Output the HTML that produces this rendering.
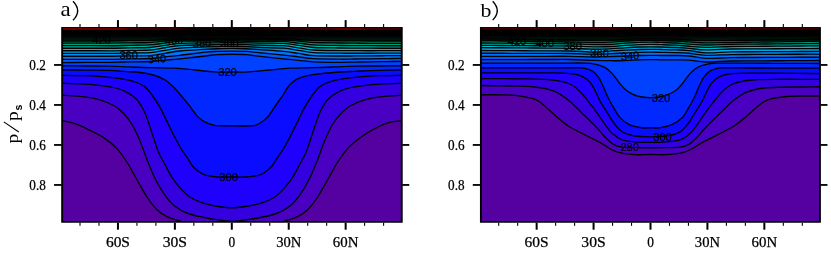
<!DOCTYPE html>
<html><head><meta charset="utf-8"><title>fig</title>
<style>html,body{margin:0;padding:0;background:#fff;}body{width:831px;height:253px;overflow:hidden;font-family:"Liberation Sans",sans-serif;}svg{display:block;}</style>
</head><body>
<svg style="will-change:transform" width="831" height="253" viewBox="0 0 831 253">
<rect width="831" height="253" fill="#fff"/>
<defs><linearGradient id="dg" x1="0" y1="0" x2="0" y2="1"><stop offset="0" stop-color="#000"/><stop offset="1" stop-color="rgb(0,30,16)"/></linearGradient><linearGradient id="reda" x1="0" y1="0" x2="1" y2="0"><stop offset="-0.000" stop-color="rgb(132,0,0)"/><stop offset="0.176" stop-color="rgb(128,0,0)"/><stop offset="0.200" stop-color="rgb(75,0,0)"/><stop offset="0.341" stop-color="rgb(60,0,0)"/><stop offset="0.376" stop-color="rgb(18,0,0)"/><stop offset="0.568" stop-color="rgb(15,0,0)"/><stop offset="0.612" stop-color="rgb(40,0,0)"/><stop offset="0.700" stop-color="rgb(65,0,0)"/><stop offset="0.789" stop-color="rgb(85,0,0)"/><stop offset="0.812" stop-color="rgb(118,0,0)"/><stop offset="0.877" stop-color="rgb(118,0,0)"/><stop offset="0.901" stop-color="rgb(85,0,0)"/><stop offset="1.001" stop-color="rgb(80,0,0)"/></linearGradient><linearGradient id="redb" x1="0" y1="0" x2="1" y2="0"><stop offset="0.000" stop-color="rgb(78,0,0)"/><stop offset="0.248" stop-color="rgb(78,0,0)"/><stop offset="0.278" stop-color="rgb(105,0,0)"/><stop offset="0.375" stop-color="rgb(105,0,0)"/><stop offset="0.404" stop-color="rgb(60,0,0)"/><stop offset="0.469" stop-color="rgb(28,0,0)"/><stop offset="0.617" stop-color="rgb(28,0,0)"/><stop offset="0.646" stop-color="rgb(60,0,0)"/><stop offset="0.664" stop-color="rgb(100,0,0)"/><stop offset="0.717" stop-color="rgb(100,0,0)"/><stop offset="0.741" stop-color="rgb(72,0,0)"/><stop offset="1.000" stop-color="rgb(72,0,0)"/></linearGradient><linearGradient id="ov" x1="0" y1="0" x2="1" y2="0"><stop offset="0" stop-color="rgb(0,80,10)" stop-opacity="0"/><stop offset="0.2" stop-color="rgb(0,80,10)" stop-opacity="0.27"/><stop offset="0.8" stop-color="rgb(0,80,10)" stop-opacity="0.27"/><stop offset="1" stop-color="rgb(0,80,10)" stop-opacity="0"/></linearGradient></defs>
<clipPath id="clipa"><rect x="62.15" y="27.30" width="339.60" height="194.60"/></clipPath>
<g clip-path="url(#clipa)">
<rect x="60.15" y="26.30" width="343.60" height="197.60" fill="rgb(85,0,160)"/>
<path d="M60.00,120.40 C62.50,120.95 70.00,122.03 75.00,123.70 C80.00,125.37 85.00,127.92 90.00,130.40 C95.00,132.88 100.50,135.57 105.00,138.60 C109.50,141.63 113.25,144.53 117.00,148.60 C120.75,152.67 124.33,158.10 127.50,163.00 C130.67,167.90 132.75,172.33 136.00,178.00 C139.25,183.67 143.50,191.70 147.00,197.00 C150.50,202.30 153.67,206.52 157.00,209.80 C160.33,213.08 163.67,214.97 167.00,216.70 C170.33,218.43 174.17,219.23 177.00,220.20 C179.83,221.17 181.00,221.53 184.00,222.50 C187.00,223.47 190.10,225.25 195.00,226.00 C199.90,226.75 207.27,226.67 213.40,227.00 C219.53,227.33 225.58,228.00 231.80,228.00 C238.02,228.00 244.40,227.33 250.70,227.00 C257.00,226.67 264.62,226.75 269.60,226.00 C274.58,225.25 277.60,223.47 280.60,222.50 C283.60,221.53 284.77,221.17 287.60,220.20 C290.43,219.23 294.27,218.43 297.60,216.70 C300.93,214.97 304.27,213.08 307.60,209.80 C310.93,206.52 314.10,202.30 317.60,197.00 C321.10,191.70 325.35,183.67 328.60,178.00 C331.85,172.33 333.93,167.90 337.10,163.00 C340.27,158.10 343.82,152.77 347.60,148.60 C351.38,144.43 355.43,141.23 359.80,138.00 C364.17,134.77 369.00,131.77 373.80,129.20 C378.60,126.63 383.40,124.03 388.60,122.60 C393.80,121.17 402.27,120.93 405.00,120.60 L405.00,23.30 L60.00,23.30 Z" fill="rgb(73,0,193)" stroke="none"/>
<path d="M60.00,95.00 C64.17,95.30 78.33,96.00 85.00,96.80 C91.67,97.60 95.05,98.27 100.00,99.80 C104.95,101.33 110.70,103.63 114.70,106.00 C118.70,108.37 121.20,111.08 124.00,114.00 C126.80,116.92 128.90,119.17 131.50,123.50 C134.10,127.83 136.93,133.75 139.60,140.00 C142.27,146.25 144.93,154.58 147.50,161.00 C150.07,167.42 152.13,172.85 155.00,178.50 C157.87,184.15 161.43,190.32 164.70,194.90 C167.97,199.48 170.72,202.90 174.60,206.00 C178.48,209.10 183.10,211.58 188.00,213.50 C192.90,215.42 198.67,216.38 204.00,217.50 C209.33,218.62 215.37,219.57 220.00,220.20 C224.63,220.83 227.87,221.30 231.80,221.30 C235.73,221.30 238.80,220.83 243.60,220.20 C248.40,219.57 255.10,218.62 260.60,217.50 C266.10,216.38 271.70,215.42 276.60,213.50 C281.50,211.58 286.12,209.10 290.00,206.00 C293.88,202.90 296.63,199.48 299.90,194.90 C303.17,190.32 306.73,184.15 309.60,178.50 C312.47,172.85 314.53,167.42 317.10,161.00 C319.67,154.58 322.33,146.25 325.00,140.00 C327.67,133.75 330.50,127.83 333.10,123.50 C335.70,119.17 337.80,116.92 340.60,114.00 C343.40,111.08 345.90,108.37 349.90,106.00 C353.90,103.63 359.65,101.33 364.60,99.80 C369.55,98.27 372.93,97.60 379.60,96.80 C386.27,96.00 400.43,95.30 404.60,95.00 L404.60,23.30 L60.00,23.30 Z" fill="rgb(53,0,224)" stroke="none"/>
<path d="M60.00,83.20 C64.17,83.35 76.67,83.48 85.00,84.10 C93.33,84.72 103.38,85.73 110.00,86.90 C116.62,88.07 120.20,88.95 124.70,91.10 C129.20,93.25 133.70,96.32 137.00,99.80 C140.30,103.28 142.33,107.47 144.50,112.00 C146.67,116.53 147.75,120.50 150.00,127.00 C152.25,133.50 155.47,144.67 158.00,151.00 C160.53,157.33 162.87,160.60 165.20,165.00 C167.53,169.40 169.60,173.67 172.00,177.40 C174.40,181.13 176.63,184.13 179.60,187.40 C182.57,190.67 186.23,194.52 189.80,197.00 C193.37,199.48 196.80,200.80 201.00,202.30 C205.20,203.80 209.87,205.08 215.00,206.00 C220.13,206.92 226.20,207.80 231.80,207.80 C237.40,207.80 243.30,206.92 248.60,206.00 C253.90,205.08 259.23,203.80 263.60,202.30 C267.97,200.80 271.23,199.48 274.80,197.00 C278.37,194.52 282.03,190.67 285.00,187.40 C287.97,184.13 290.20,181.13 292.60,177.40 C295.00,173.67 297.07,169.40 299.40,165.00 C301.73,160.60 304.07,157.33 306.60,151.00 C309.13,144.67 312.35,133.50 314.60,127.00 C316.85,120.50 317.93,116.53 320.10,112.00 C322.27,107.47 324.30,103.28 327.60,99.80 C330.90,96.32 335.40,93.25 339.90,91.10 C344.40,88.95 347.98,88.07 354.60,86.90 C361.22,85.73 371.27,84.72 379.60,84.10 C387.93,83.48 400.43,83.35 404.60,83.20 L404.60,23.30 L60.00,23.30 Z" fill="rgb(30,0,252)" stroke="none"/>
<path d="M60.00,75.30 C64.17,75.37 76.67,75.35 85.00,75.70 C93.33,76.05 102.55,76.62 110.00,77.40 C117.45,78.18 124.03,78.95 129.70,80.40 C135.37,81.85 140.28,83.67 144.00,86.10 C147.72,88.53 149.33,91.45 152.00,95.00 C154.67,98.55 157.43,102.83 160.00,107.40 C162.57,111.97 164.93,117.42 167.40,122.40 C169.87,127.38 172.53,132.95 174.80,137.30 C177.07,141.65 178.80,144.88 181.00,148.50 C183.20,152.12 186.00,156.00 188.00,159.00 C190.00,162.00 191.00,164.25 193.00,166.50 C195.00,168.75 197.60,170.97 200.00,172.50 C202.40,174.03 204.50,174.95 207.40,175.70 C210.30,176.45 213.33,176.78 217.40,177.00 C221.47,177.22 227.00,177.00 231.80,177.00 C236.60,177.00 241.97,177.22 246.20,177.00 C250.43,176.78 254.13,176.45 257.20,175.70 C260.27,174.95 262.20,174.03 264.60,172.50 C267.00,170.97 269.60,168.75 271.60,166.50 C273.60,164.25 274.60,162.00 276.60,159.00 C278.60,156.00 281.40,152.12 283.60,148.50 C285.80,144.88 287.53,141.65 289.80,137.30 C292.07,132.95 294.73,127.38 297.20,122.40 C299.67,117.42 302.03,111.97 304.60,107.40 C307.17,102.83 309.93,98.55 312.60,95.00 C315.27,91.45 316.88,88.53 320.60,86.10 C324.32,83.67 329.23,81.85 334.90,80.40 C340.57,78.95 347.15,78.18 354.60,77.40 C362.05,76.62 371.27,76.05 379.60,75.70 C387.93,75.35 400.43,75.37 404.60,75.30 L404.60,23.30 L60.00,23.30 Z" fill="rgb(10,12,255)" stroke="none"/>
<path d="M60.00,69.80 C64.17,69.85 76.67,70.00 85.00,70.10 C93.33,70.20 103.33,70.18 110.00,70.40 C116.67,70.62 120.00,71.10 125.00,71.45 C130.00,71.80 135.00,71.83 140.00,72.50 C145.00,73.17 150.83,74.25 155.00,75.50 C159.17,76.75 161.83,78.00 165.00,80.00 C168.17,82.00 171.33,84.92 174.00,87.50 C176.67,90.08 178.37,92.38 181.00,95.50 C183.63,98.62 187.10,102.77 189.80,106.20 C192.50,109.63 194.72,113.48 197.20,116.10 C199.68,118.72 201.80,120.37 204.70,121.90 C207.60,123.43 210.08,124.65 214.60,125.30 C219.12,125.95 227.17,125.68 231.80,125.80 C236.43,125.92 238.55,126.08 242.40,126.00 C246.25,125.92 251.78,125.90 254.90,125.30 C258.02,124.70 259.03,123.72 261.10,122.40 C263.17,121.08 265.43,119.38 267.30,117.40 C269.17,115.42 270.85,112.57 272.30,110.50 C273.75,108.43 274.75,106.83 276.00,105.00 C277.25,103.17 278.55,101.25 279.80,99.50 C281.05,97.75 282.30,96.33 283.50,94.50 C284.70,92.67 285.67,90.42 287.00,88.50 C288.33,86.58 289.38,84.77 291.50,83.00 C293.62,81.23 295.85,79.33 299.70,77.90 C303.55,76.47 307.97,75.38 314.60,74.40 C321.23,73.42 332.81,72.52 339.50,72.00 C346.19,71.48 349.67,71.53 354.75,71.30 C359.83,71.07 364.62,70.78 370.00,70.60 C375.38,70.42 381.33,70.33 387.00,70.20 C392.67,70.07 401.17,69.87 404.00,69.80 L404.00,23.30 L60.00,23.30 Z" fill="rgb(0,40,255)" stroke="none"/>
<path d="M60.00,65.80 C64.17,65.83 76.67,65.93 85.00,66.00 C93.33,66.07 102.50,66.04 110.00,66.20 C117.50,66.36 123.33,66.70 130.00,66.95 C136.67,67.20 142.50,67.49 150.00,67.70 C157.50,67.91 167.50,67.82 175.00,68.20 C182.50,68.58 188.33,69.38 195.00,70.00 C201.67,70.62 208.87,71.57 215.00,71.90 C221.13,72.23 226.20,72.00 231.80,72.00 C237.40,72.00 242.30,72.23 248.60,71.90 C254.90,71.57 262.77,70.62 269.60,70.00 C276.43,69.38 282.10,68.58 289.60,68.20 C297.10,67.82 307.10,67.91 314.60,67.70 C322.10,67.49 327.93,67.20 334.60,66.95 C341.27,66.70 347.10,66.36 354.60,66.20 C362.10,66.04 371.27,66.07 379.60,66.00 C387.93,65.93 400.43,65.83 404.60,65.80 L404.60,23.30 L60.00,23.30 Z" fill="rgb(0,66,255)" stroke="none"/>
<path d="M60.00,62.60 C64.17,62.58 76.67,62.50 85.00,62.45 C93.33,62.40 102.50,62.39 110.00,62.30 C117.50,62.21 123.33,62.03 130.00,61.90 C136.67,61.77 144.17,61.79 150.00,61.50 C155.83,61.21 160.00,60.60 165.00,60.15 C170.00,59.70 173.33,59.49 180.00,58.80 C186.67,58.11 198.75,56.71 205.00,56.00 C211.25,55.29 213.03,54.85 217.50,54.55 C221.97,54.25 227.03,54.20 231.80,54.20 C236.57,54.20 241.63,54.22 246.10,54.55 C250.57,54.88 252.35,55.48 258.60,56.20 C264.85,56.93 276.93,58.21 283.60,58.90 C290.27,59.59 293.60,59.87 298.60,60.35 C303.60,60.83 306.70,61.47 313.60,61.80 C320.50,62.12 333.10,62.26 340.00,62.30 C346.90,62.34 350.00,62.13 355.00,62.05 C360.00,61.97 364.67,61.88 370.00,61.80 C375.33,61.72 381.33,61.67 387.00,61.60 C392.67,61.53 401.17,61.43 404.00,61.40 L404.00,23.30 L60.00,23.30 Z" fill="rgb(0,88,255)" stroke="none"/>
<path d="M60.00,59.40 C64.17,59.40 76.67,59.40 85.00,59.40 C93.33,59.40 102.50,59.47 110.00,59.40 C117.50,59.33 123.33,59.10 130.00,58.95 C136.67,58.80 144.17,58.84 150.00,58.50 C155.83,58.16 160.00,57.43 165.00,56.90 C170.00,56.37 173.33,56.08 180.00,55.30 C186.67,54.52 198.75,52.84 205.00,52.20 C211.25,51.56 213.03,51.63 217.50,51.45 C221.97,51.27 227.03,51.10 231.80,51.10 C236.57,51.10 241.63,51.20 246.10,51.45 C250.57,51.70 252.35,51.99 258.60,52.60 C264.85,53.21 276.93,54.39 283.60,55.10 C290.27,55.81 293.60,56.27 298.60,56.85 C303.60,57.43 306.70,58.21 313.60,58.60 C320.50,58.99 333.10,59.13 340.00,59.20 C346.90,59.27 350.00,59.07 355.00,59.00 C360.00,58.93 364.67,58.87 370.00,58.80 C375.33,58.73 381.33,58.67 387.00,58.60 C392.67,58.53 401.17,58.43 404.00,58.40 L404.00,23.30 L60.00,23.30 Z" fill="rgb(0,116,255)" stroke="none"/>
<path d="M60.00,56.20 C64.17,56.20 76.67,56.20 85.00,56.20 C93.33,56.20 102.50,56.25 110.00,56.20 C117.50,56.15 123.33,56.00 130.00,55.90 C136.67,55.80 144.17,56.03 150.00,55.60 C155.83,55.17 160.00,54.07 165.00,53.30 C170.00,52.53 173.33,51.65 180.00,51.00 C186.67,50.35 198.75,49.77 205.00,49.40 C211.25,49.02 213.03,48.92 217.50,48.75 C221.97,48.58 227.03,48.40 231.80,48.40 C236.57,48.40 241.63,48.53 246.10,48.75 C250.57,48.97 252.35,49.28 258.60,49.70 C264.85,50.12 276.93,50.67 283.60,51.30 C290.27,51.92 293.60,52.73 298.60,53.45 C303.60,54.17 306.70,55.18 313.60,55.60 C320.50,56.02 333.10,55.95 340.00,56.00 C346.90,56.05 350.00,55.93 355.00,55.90 C360.00,55.87 364.67,55.83 370.00,55.80 C375.33,55.77 381.33,55.73 387.00,55.70 C392.67,55.67 401.17,55.62 404.00,55.60 L404.00,23.30 L60.00,23.30 Z" fill="rgb(0,144,248)" stroke="none"/>
<path d="M60.00,53.40 C64.17,53.40 76.67,53.40 85.00,53.40 C93.33,53.40 102.50,53.47 110.00,53.40 C117.50,53.33 123.33,53.13 130.00,53.00 C136.67,52.87 144.17,53.04 150.00,52.60 C155.83,52.16 160.00,51.10 165.00,50.35 C170.00,49.60 173.33,48.68 180.00,48.10 C186.67,47.52 198.75,47.16 205.00,46.90 C211.25,46.64 213.03,46.67 217.50,46.55 C221.97,46.43 227.03,46.20 231.80,46.20 C236.57,46.20 241.63,46.37 246.10,46.55 C250.57,46.73 252.35,47.02 258.60,47.30 C264.85,47.57 276.93,47.68 283.60,48.20 C290.27,48.72 293.60,49.67 298.60,50.40 C303.60,51.13 306.70,52.13 313.60,52.60 C320.50,53.07 333.10,53.10 340.00,53.20 C346.90,53.30 350.00,53.20 355.00,53.20 C360.00,53.20 364.67,53.21 370.00,53.20 C375.33,53.19 381.33,53.17 387.00,53.15 C392.67,53.13 401.17,53.11 404.00,53.10 L404.00,23.30 L60.00,23.30 Z" fill="rgb(0,170,232)" stroke="none"/>
<path d="M60.00,50.70 C64.17,50.71 76.67,50.73 85.00,50.75 C93.33,50.77 102.50,50.86 110.00,50.80 C117.50,50.74 123.33,50.53 130.00,50.40 C136.67,50.27 144.17,50.44 150.00,50.00 C155.83,49.56 160.00,48.50 165.00,47.75 C170.00,47.00 173.33,45.98 180.00,45.50 C186.67,45.02 198.75,45.04 205.00,44.90 C211.25,44.76 213.03,44.75 217.50,44.65 C221.97,44.55 227.03,44.30 231.80,44.30 C236.57,44.30 241.63,44.50 246.10,44.65 C250.57,44.80 252.35,45.03 258.60,45.20 C264.85,45.38 276.93,45.26 283.60,45.70 C290.27,46.14 293.60,47.13 298.60,47.85 C303.60,48.57 306.70,49.54 313.60,50.00 C320.50,50.46 333.10,50.49 340.00,50.60 C346.90,50.71 350.00,50.63 355.00,50.65 C360.00,50.67 364.67,50.70 370.00,50.70 C375.33,50.70 381.33,50.67 387.00,50.65 C392.67,50.63 401.17,50.61 404.00,50.60 L404.00,23.30 L60.00,23.30 Z" fill="rgb(0,186,204)" stroke="none"/>
<path d="M60.00,48.20 C64.17,48.20 76.67,48.20 85.00,48.20 C93.33,48.20 102.50,48.26 110.00,48.20 C117.50,48.14 123.33,47.97 130.00,47.85 C136.67,47.73 144.17,47.90 150.00,47.50 C155.83,47.10 160.00,46.13 165.00,45.45 C170.00,44.77 173.33,43.84 180.00,43.40 C186.67,42.96 198.75,42.89 205.00,42.80 C211.25,42.71 213.03,42.90 217.50,42.85 C221.97,42.80 227.03,42.50 231.80,42.50 C236.57,42.50 241.63,42.75 246.10,42.85 C250.57,42.95 252.35,43.01 258.60,43.10 C264.85,43.19 276.93,43.01 283.60,43.40 C290.27,43.79 293.60,44.77 298.60,45.45 C303.60,46.13 306.70,47.08 313.60,47.50 C320.50,47.92 333.10,47.90 340.00,48.00 C346.90,48.10 350.00,48.07 355.00,48.10 C360.00,48.13 364.67,48.18 370.00,48.20 C375.33,48.22 381.33,48.20 387.00,48.20 C392.67,48.20 401.17,48.20 404.00,48.20 L404.00,23.30 L60.00,23.30 Z" fill="rgb(0,175,160)" stroke="none"/>
<path d="M60.00,45.60 C64.17,45.61 76.67,45.63 85.00,45.65 C93.33,45.67 102.50,45.76 110.00,45.70 C117.50,45.64 123.33,45.43 130.00,45.30 C136.67,45.17 144.17,45.27 150.00,44.90 C155.83,44.52 160.00,43.67 165.00,43.05 C170.00,42.43 173.33,41.54 180.00,41.20 C186.67,40.86 198.75,40.98 205.00,41.00 C211.25,41.02 213.03,41.35 217.50,41.35 C221.97,41.35 227.03,41.00 231.80,41.00 C236.57,41.00 241.63,41.30 246.10,41.35 C250.57,41.40 252.35,41.29 258.60,41.30 C264.85,41.31 276.93,41.09 283.60,41.40 C290.27,41.71 293.60,42.57 298.60,43.15 C303.60,43.73 306.70,44.51 313.60,44.90 C320.50,45.29 333.10,45.38 340.00,45.50 C346.90,45.62 350.00,45.57 355.00,45.60 C360.00,45.63 364.67,45.68 370.00,45.70 C375.33,45.72 381.33,45.70 387.00,45.70 C392.67,45.70 401.17,45.70 404.00,45.70 L404.00,23.30 L60.00,23.30 Z" fill="rgb(0,158,116)" stroke="none"/>
<path d="M60.00,43.20 C64.17,43.19 76.67,43.17 85.00,43.15 C93.33,43.13 102.50,43.16 110.00,43.10 C117.50,43.04 123.33,42.90 130.00,42.80 C136.67,42.70 144.17,42.79 150.00,42.50 C155.83,42.21 160.00,41.53 165.00,41.05 C170.00,40.57 173.33,39.86 180.00,39.60 C186.67,39.34 198.75,39.46 205.00,39.50 C211.25,39.54 213.03,39.85 217.50,39.85 C221.97,39.85 227.03,39.50 231.80,39.50 C236.57,39.50 241.63,39.83 246.10,39.85 C250.57,39.87 252.35,39.61 258.60,39.60 C264.85,39.59 276.93,39.54 283.60,39.80 C290.27,40.06 293.60,40.70 298.60,41.15 C303.60,41.60 306.70,42.19 313.60,42.50 C320.50,42.81 333.10,42.89 340.00,43.00 C346.90,43.11 350.00,43.10 355.00,43.15 C360.00,43.20 364.67,43.27 370.00,43.30 C375.33,43.32 381.33,43.30 387.00,43.30 C392.67,43.30 401.17,43.30 404.00,43.30 L404.00,23.30 L60.00,23.30 Z" fill="rgb(0,128,84)" stroke="none"/>
<path d="M60.00,41.20 C64.17,41.18 76.67,41.13 85.00,41.10 C93.33,41.07 102.50,41.08 110.00,41.00 C117.50,40.92 123.33,40.77 130.00,40.65 C136.67,40.53 144.17,40.52 150.00,40.30 C155.83,40.07 160.00,39.63 165.00,39.30 C170.00,38.97 173.33,38.48 180.00,38.30 C186.67,38.12 198.75,38.19 205.00,38.20 C211.25,38.21 213.03,38.38 217.50,38.35 C221.97,38.32 227.03,38.00 231.80,38.00 C236.57,38.00 241.63,38.32 246.10,38.35 C250.57,38.38 252.35,38.19 258.60,38.20 C264.85,38.21 276.93,38.21 283.60,38.40 C290.27,38.59 293.60,39.03 298.60,39.35 C303.60,39.67 306.70,40.06 313.60,40.30 C320.50,40.54 333.10,40.70 340.00,40.80 C346.90,40.90 350.00,40.87 355.00,40.90 C360.00,40.93 364.67,40.98 370.00,41.00 C375.33,41.02 381.33,41.00 387.00,41.00 C392.67,41.00 401.17,41.00 404.00,41.00 L404.00,23.30 L60.00,23.30 Z" fill="rgb(0,82,50)" stroke="none"/>
<rect x="60.15" y="26.30" width="343.60" height="14.30" fill="#000"/>
<rect x="60.15" y="35.5" width="343.60" height="5.3" fill="url(#dg)"/>
<rect x="196" y="40.6" width="96" height="8.6" fill="url(#ov)"/>
<path d="M60.00,120.40 C62.50,120.95 70.00,122.03 75.00,123.70 C80.00,125.37 85.00,127.92 90.00,130.40 C95.00,132.88 100.50,135.57 105.00,138.60 C109.50,141.63 113.25,144.53 117.00,148.60 C120.75,152.67 124.33,158.10 127.50,163.00 C130.67,167.90 132.75,172.33 136.00,178.00 C139.25,183.67 143.50,191.70 147.00,197.00 C150.50,202.30 153.67,206.52 157.00,209.80 C160.33,213.08 163.67,214.97 167.00,216.70 C170.33,218.43 174.17,219.23 177.00,220.20 C179.83,221.17 181.00,221.53 184.00,222.50 C187.00,223.47 190.10,225.25 195.00,226.00 C199.90,226.75 207.27,226.67 213.40,227.00 C219.53,227.33 225.58,228.00 231.80,228.00 C238.02,228.00 244.40,227.33 250.70,227.00 C257.00,226.67 264.62,226.75 269.60,226.00 C274.58,225.25 277.60,223.47 280.60,222.50 C283.60,221.53 284.77,221.17 287.60,220.20 C290.43,219.23 294.27,218.43 297.60,216.70 C300.93,214.97 304.27,213.08 307.60,209.80 C310.93,206.52 314.10,202.30 317.60,197.00 C321.10,191.70 325.35,183.67 328.60,178.00 C331.85,172.33 333.93,167.90 337.10,163.00 C340.27,158.10 343.82,152.77 347.60,148.60 C351.38,144.43 355.43,141.23 359.80,138.00 C364.17,134.77 369.00,131.77 373.80,129.20 C378.60,126.63 383.40,124.03 388.60,122.60 C393.80,121.17 402.27,120.93 405.00,120.60" fill="none" stroke="#000" stroke-width="1.35"/>
<path d="M60.00,95.00 C64.17,95.30 78.33,96.00 85.00,96.80 C91.67,97.60 95.05,98.27 100.00,99.80 C104.95,101.33 110.70,103.63 114.70,106.00 C118.70,108.37 121.20,111.08 124.00,114.00 C126.80,116.92 128.90,119.17 131.50,123.50 C134.10,127.83 136.93,133.75 139.60,140.00 C142.27,146.25 144.93,154.58 147.50,161.00 C150.07,167.42 152.13,172.85 155.00,178.50 C157.87,184.15 161.43,190.32 164.70,194.90 C167.97,199.48 170.72,202.90 174.60,206.00 C178.48,209.10 183.10,211.58 188.00,213.50 C192.90,215.42 198.67,216.38 204.00,217.50 C209.33,218.62 215.37,219.57 220.00,220.20 C224.63,220.83 227.87,221.30 231.80,221.30 C235.73,221.30 238.80,220.83 243.60,220.20 C248.40,219.57 255.10,218.62 260.60,217.50 C266.10,216.38 271.70,215.42 276.60,213.50 C281.50,211.58 286.12,209.10 290.00,206.00 C293.88,202.90 296.63,199.48 299.90,194.90 C303.17,190.32 306.73,184.15 309.60,178.50 C312.47,172.85 314.53,167.42 317.10,161.00 C319.67,154.58 322.33,146.25 325.00,140.00 C327.67,133.75 330.50,127.83 333.10,123.50 C335.70,119.17 337.80,116.92 340.60,114.00 C343.40,111.08 345.90,108.37 349.90,106.00 C353.90,103.63 359.65,101.33 364.60,99.80 C369.55,98.27 372.93,97.60 379.60,96.80 C386.27,96.00 400.43,95.30 404.60,95.00" fill="none" stroke="#000" stroke-width="1.35"/>
<path d="M60.00,83.20 C64.17,83.35 76.67,83.48 85.00,84.10 C93.33,84.72 103.38,85.73 110.00,86.90 C116.62,88.07 120.20,88.95 124.70,91.10 C129.20,93.25 133.70,96.32 137.00,99.80 C140.30,103.28 142.33,107.47 144.50,112.00 C146.67,116.53 147.75,120.50 150.00,127.00 C152.25,133.50 155.47,144.67 158.00,151.00 C160.53,157.33 162.87,160.60 165.20,165.00 C167.53,169.40 169.60,173.67 172.00,177.40 C174.40,181.13 176.63,184.13 179.60,187.40 C182.57,190.67 186.23,194.52 189.80,197.00 C193.37,199.48 196.80,200.80 201.00,202.30 C205.20,203.80 209.87,205.08 215.00,206.00 C220.13,206.92 226.20,207.80 231.80,207.80 C237.40,207.80 243.30,206.92 248.60,206.00 C253.90,205.08 259.23,203.80 263.60,202.30 C267.97,200.80 271.23,199.48 274.80,197.00 C278.37,194.52 282.03,190.67 285.00,187.40 C287.97,184.13 290.20,181.13 292.60,177.40 C295.00,173.67 297.07,169.40 299.40,165.00 C301.73,160.60 304.07,157.33 306.60,151.00 C309.13,144.67 312.35,133.50 314.60,127.00 C316.85,120.50 317.93,116.53 320.10,112.00 C322.27,107.47 324.30,103.28 327.60,99.80 C330.90,96.32 335.40,93.25 339.90,91.10 C344.40,88.95 347.98,88.07 354.60,86.90 C361.22,85.73 371.27,84.72 379.60,84.10 C387.93,83.48 400.43,83.35 404.60,83.20" fill="none" stroke="#000" stroke-width="1.35"/>
<path d="M60.00,75.30 C64.17,75.37 76.67,75.35 85.00,75.70 C93.33,76.05 102.55,76.62 110.00,77.40 C117.45,78.18 124.03,78.95 129.70,80.40 C135.37,81.85 140.28,83.67 144.00,86.10 C147.72,88.53 149.33,91.45 152.00,95.00 C154.67,98.55 157.43,102.83 160.00,107.40 C162.57,111.97 164.93,117.42 167.40,122.40 C169.87,127.38 172.53,132.95 174.80,137.30 C177.07,141.65 178.80,144.88 181.00,148.50 C183.20,152.12 186.00,156.00 188.00,159.00 C190.00,162.00 191.00,164.25 193.00,166.50 C195.00,168.75 197.60,170.97 200.00,172.50 C202.40,174.03 204.50,174.95 207.40,175.70 C210.30,176.45 213.33,176.78 217.40,177.00 C221.47,177.22 227.00,177.00 231.80,177.00 C236.60,177.00 241.97,177.22 246.20,177.00 C250.43,176.78 254.13,176.45 257.20,175.70 C260.27,174.95 262.20,174.03 264.60,172.50 C267.00,170.97 269.60,168.75 271.60,166.50 C273.60,164.25 274.60,162.00 276.60,159.00 C278.60,156.00 281.40,152.12 283.60,148.50 C285.80,144.88 287.53,141.65 289.80,137.30 C292.07,132.95 294.73,127.38 297.20,122.40 C299.67,117.42 302.03,111.97 304.60,107.40 C307.17,102.83 309.93,98.55 312.60,95.00 C315.27,91.45 316.88,88.53 320.60,86.10 C324.32,83.67 329.23,81.85 334.90,80.40 C340.57,78.95 347.15,78.18 354.60,77.40 C362.05,76.62 371.27,76.05 379.60,75.70 C387.93,75.35 400.43,75.37 404.60,75.30" fill="none" stroke="#000" stroke-width="1.35"/>
<path d="M60.00,69.80 C64.17,69.85 76.67,70.00 85.00,70.10 C93.33,70.20 103.33,70.18 110.00,70.40 C116.67,70.62 120.00,71.10 125.00,71.45 C130.00,71.80 135.00,71.83 140.00,72.50 C145.00,73.17 150.83,74.25 155.00,75.50 C159.17,76.75 161.83,78.00 165.00,80.00 C168.17,82.00 171.33,84.92 174.00,87.50 C176.67,90.08 178.37,92.38 181.00,95.50 C183.63,98.62 187.10,102.77 189.80,106.20 C192.50,109.63 194.72,113.48 197.20,116.10 C199.68,118.72 201.80,120.37 204.70,121.90 C207.60,123.43 210.08,124.65 214.60,125.30 C219.12,125.95 227.17,125.68 231.80,125.80 C236.43,125.92 238.55,126.08 242.40,126.00 C246.25,125.92 251.78,125.90 254.90,125.30 C258.02,124.70 259.03,123.72 261.10,122.40 C263.17,121.08 265.43,119.38 267.30,117.40 C269.17,115.42 270.85,112.57 272.30,110.50 C273.75,108.43 274.75,106.83 276.00,105.00 C277.25,103.17 278.55,101.25 279.80,99.50 C281.05,97.75 282.30,96.33 283.50,94.50 C284.70,92.67 285.67,90.42 287.00,88.50 C288.33,86.58 289.38,84.77 291.50,83.00 C293.62,81.23 295.85,79.33 299.70,77.90 C303.55,76.47 307.97,75.38 314.60,74.40 C321.23,73.42 332.81,72.52 339.50,72.00 C346.19,71.48 349.67,71.53 354.75,71.30 C359.83,71.07 364.62,70.78 370.00,70.60 C375.38,70.42 381.33,70.33 387.00,70.20 C392.67,70.07 401.17,69.87 404.00,69.80" fill="none" stroke="#000" stroke-width="1.35"/>
<path d="M60.00,65.80 C64.17,65.83 76.67,65.93 85.00,66.00 C93.33,66.07 102.50,66.04 110.00,66.20 C117.50,66.36 123.33,66.70 130.00,66.95 C136.67,67.20 142.50,67.49 150.00,67.70 C157.50,67.91 167.50,67.82 175.00,68.20 C182.50,68.58 188.33,69.38 195.00,70.00 C201.67,70.62 208.87,71.57 215.00,71.90 C221.13,72.23 226.20,72.00 231.80,72.00 C237.40,72.00 242.30,72.23 248.60,71.90 C254.90,71.57 262.77,70.62 269.60,70.00 C276.43,69.38 282.10,68.58 289.60,68.20 C297.10,67.82 307.10,67.91 314.60,67.70 C322.10,67.49 327.93,67.20 334.60,66.95 C341.27,66.70 347.10,66.36 354.60,66.20 C362.10,66.04 371.27,66.07 379.60,66.00 C387.93,65.93 400.43,65.83 404.60,65.80" fill="none" stroke="#000" stroke-width="1.35"/>
<path d="M60.00,62.60 C64.17,62.58 76.67,62.50 85.00,62.45 C93.33,62.40 102.50,62.39 110.00,62.30 C117.50,62.21 123.33,62.03 130.00,61.90 C136.67,61.77 144.17,61.79 150.00,61.50 C155.83,61.21 160.00,60.60 165.00,60.15 C170.00,59.70 173.33,59.49 180.00,58.80 C186.67,58.11 198.75,56.71 205.00,56.00 C211.25,55.29 213.03,54.85 217.50,54.55 C221.97,54.25 227.03,54.20 231.80,54.20 C236.57,54.20 241.63,54.22 246.10,54.55 C250.57,54.88 252.35,55.48 258.60,56.20 C264.85,56.93 276.93,58.21 283.60,58.90 C290.27,59.59 293.60,59.87 298.60,60.35 C303.60,60.83 306.70,61.47 313.60,61.80 C320.50,62.12 333.10,62.26 340.00,62.30 C346.90,62.34 350.00,62.13 355.00,62.05 C360.00,61.97 364.67,61.88 370.00,61.80 C375.33,61.72 381.33,61.67 387.00,61.60 C392.67,61.53 401.17,61.43 404.00,61.40" fill="none" stroke="#000" stroke-width="1.35"/>
<path d="M60.00,59.40 C64.17,59.40 76.67,59.40 85.00,59.40 C93.33,59.40 102.50,59.47 110.00,59.40 C117.50,59.33 123.33,59.10 130.00,58.95 C136.67,58.80 144.17,58.84 150.00,58.50 C155.83,58.16 160.00,57.43 165.00,56.90 C170.00,56.37 173.33,56.08 180.00,55.30 C186.67,54.52 198.75,52.84 205.00,52.20 C211.25,51.56 213.03,51.63 217.50,51.45 C221.97,51.27 227.03,51.10 231.80,51.10 C236.57,51.10 241.63,51.20 246.10,51.45 C250.57,51.70 252.35,51.99 258.60,52.60 C264.85,53.21 276.93,54.39 283.60,55.10 C290.27,55.81 293.60,56.27 298.60,56.85 C303.60,57.43 306.70,58.21 313.60,58.60 C320.50,58.99 333.10,59.13 340.00,59.20 C346.90,59.27 350.00,59.07 355.00,59.00 C360.00,58.93 364.67,58.87 370.00,58.80 C375.33,58.73 381.33,58.67 387.00,58.60 C392.67,58.53 401.17,58.43 404.00,58.40" fill="none" stroke="#000" stroke-width="1.35"/>
<path d="M60.00,56.20 C64.17,56.20 76.67,56.20 85.00,56.20 C93.33,56.20 102.50,56.25 110.00,56.20 C117.50,56.15 123.33,56.00 130.00,55.90 C136.67,55.80 144.17,56.03 150.00,55.60 C155.83,55.17 160.00,54.07 165.00,53.30 C170.00,52.53 173.33,51.65 180.00,51.00 C186.67,50.35 198.75,49.77 205.00,49.40 C211.25,49.02 213.03,48.92 217.50,48.75 C221.97,48.58 227.03,48.40 231.80,48.40 C236.57,48.40 241.63,48.53 246.10,48.75 C250.57,48.97 252.35,49.28 258.60,49.70 C264.85,50.12 276.93,50.67 283.60,51.30 C290.27,51.92 293.60,52.73 298.60,53.45 C303.60,54.17 306.70,55.18 313.60,55.60 C320.50,56.02 333.10,55.95 340.00,56.00 C346.90,56.05 350.00,55.93 355.00,55.90 C360.00,55.87 364.67,55.83 370.00,55.80 C375.33,55.77 381.33,55.73 387.00,55.70 C392.67,55.67 401.17,55.62 404.00,55.60" fill="none" stroke="#000" stroke-width="1.35"/>
<path d="M60.00,53.40 C64.17,53.40 76.67,53.40 85.00,53.40 C93.33,53.40 102.50,53.47 110.00,53.40 C117.50,53.33 123.33,53.13 130.00,53.00 C136.67,52.87 144.17,53.04 150.00,52.60 C155.83,52.16 160.00,51.10 165.00,50.35 C170.00,49.60 173.33,48.68 180.00,48.10 C186.67,47.52 198.75,47.16 205.00,46.90 C211.25,46.64 213.03,46.67 217.50,46.55 C221.97,46.43 227.03,46.20 231.80,46.20 C236.57,46.20 241.63,46.37 246.10,46.55 C250.57,46.73 252.35,47.02 258.60,47.30 C264.85,47.57 276.93,47.68 283.60,48.20 C290.27,48.72 293.60,49.67 298.60,50.40 C303.60,51.13 306.70,52.13 313.60,52.60 C320.50,53.07 333.10,53.10 340.00,53.20 C346.90,53.30 350.00,53.20 355.00,53.20 C360.00,53.20 364.67,53.21 370.00,53.20 C375.33,53.19 381.33,53.17 387.00,53.15 C392.67,53.13 401.17,53.11 404.00,53.10" fill="none" stroke="#000" stroke-width="1.35"/>
<path d="M60.00,50.70 C64.17,50.71 76.67,50.73 85.00,50.75 C93.33,50.77 102.50,50.86 110.00,50.80 C117.50,50.74 123.33,50.53 130.00,50.40 C136.67,50.27 144.17,50.44 150.00,50.00 C155.83,49.56 160.00,48.50 165.00,47.75 C170.00,47.00 173.33,45.98 180.00,45.50 C186.67,45.02 198.75,45.04 205.00,44.90 C211.25,44.76 213.03,44.75 217.50,44.65 C221.97,44.55 227.03,44.30 231.80,44.30 C236.57,44.30 241.63,44.50 246.10,44.65 C250.57,44.80 252.35,45.03 258.60,45.20 C264.85,45.38 276.93,45.26 283.60,45.70 C290.27,46.14 293.60,47.13 298.60,47.85 C303.60,48.57 306.70,49.54 313.60,50.00 C320.50,50.46 333.10,50.49 340.00,50.60 C346.90,50.71 350.00,50.63 355.00,50.65 C360.00,50.67 364.67,50.70 370.00,50.70 C375.33,50.70 381.33,50.67 387.00,50.65 C392.67,50.63 401.17,50.61 404.00,50.60" fill="none" stroke="#000" stroke-width="1.35"/>
<path d="M60.00,48.20 C64.17,48.20 76.67,48.20 85.00,48.20 C93.33,48.20 102.50,48.26 110.00,48.20 C117.50,48.14 123.33,47.97 130.00,47.85 C136.67,47.73 144.17,47.90 150.00,47.50 C155.83,47.10 160.00,46.13 165.00,45.45 C170.00,44.77 173.33,43.84 180.00,43.40 C186.67,42.96 198.75,42.89 205.00,42.80 C211.25,42.71 213.03,42.90 217.50,42.85 C221.97,42.80 227.03,42.50 231.80,42.50 C236.57,42.50 241.63,42.75 246.10,42.85 C250.57,42.95 252.35,43.01 258.60,43.10 C264.85,43.19 276.93,43.01 283.60,43.40 C290.27,43.79 293.60,44.77 298.60,45.45 C303.60,46.13 306.70,47.08 313.60,47.50 C320.50,47.92 333.10,47.90 340.00,48.00 C346.90,48.10 350.00,48.07 355.00,48.10 C360.00,48.13 364.67,48.18 370.00,48.20 C375.33,48.22 381.33,48.20 387.00,48.20 C392.67,48.20 401.17,48.20 404.00,48.20" fill="none" stroke="#000" stroke-width="1.35"/>
<path d="M60.00,45.60 C64.17,45.61 76.67,45.63 85.00,45.65 C93.33,45.67 102.50,45.76 110.00,45.70 C117.50,45.64 123.33,45.43 130.00,45.30 C136.67,45.17 144.17,45.27 150.00,44.90 C155.83,44.52 160.00,43.67 165.00,43.05 C170.00,42.43 173.33,41.54 180.00,41.20 C186.67,40.86 198.75,40.98 205.00,41.00 C211.25,41.02 213.03,41.35 217.50,41.35 C221.97,41.35 227.03,41.00 231.80,41.00 C236.57,41.00 241.63,41.30 246.10,41.35 C250.57,41.40 252.35,41.29 258.60,41.30 C264.85,41.31 276.93,41.09 283.60,41.40 C290.27,41.71 293.60,42.57 298.60,43.15 C303.60,43.73 306.70,44.51 313.60,44.90 C320.50,45.29 333.10,45.38 340.00,45.50 C346.90,45.62 350.00,45.57 355.00,45.60 C360.00,45.63 364.67,45.68 370.00,45.70 C375.33,45.72 381.33,45.70 387.00,45.70 C392.67,45.70 401.17,45.70 404.00,45.70" fill="none" stroke="#000" stroke-width="1.35"/>
<path d="M60.00,43.20 C64.17,43.19 76.67,43.17 85.00,43.15 C93.33,43.13 102.50,43.16 110.00,43.10 C117.50,43.04 123.33,42.90 130.00,42.80 C136.67,42.70 144.17,42.79 150.00,42.50 C155.83,42.21 160.00,41.53 165.00,41.05 C170.00,40.57 173.33,39.86 180.00,39.60 C186.67,39.34 198.75,39.46 205.00,39.50 C211.25,39.54 213.03,39.85 217.50,39.85 C221.97,39.85 227.03,39.50 231.80,39.50 C236.57,39.50 241.63,39.83 246.10,39.85 C250.57,39.87 252.35,39.61 258.60,39.60 C264.85,39.59 276.93,39.54 283.60,39.80 C290.27,40.06 293.60,40.70 298.60,41.15 C303.60,41.60 306.70,42.19 313.60,42.50 C320.50,42.81 333.10,42.89 340.00,43.00 C346.90,43.11 350.00,43.10 355.00,43.15 C360.00,43.20 364.67,43.27 370.00,43.30 C375.33,43.32 381.33,43.30 387.00,43.30 C392.67,43.30 401.17,43.30 404.00,43.30" fill="none" stroke="#000" stroke-width="1.35"/>
<path d="M60.00,41.20 C64.17,41.18 76.67,41.13 85.00,41.10 C93.33,41.07 102.50,41.08 110.00,41.00 C117.50,40.92 123.33,40.77 130.00,40.65 C136.67,40.53 144.17,40.52 150.00,40.30 C155.83,40.07 160.00,39.63 165.00,39.30 C170.00,38.97 173.33,38.48 180.00,38.30 C186.67,38.12 198.75,38.19 205.00,38.20 C211.25,38.21 213.03,38.38 217.50,38.35 C221.97,38.32 227.03,38.00 231.80,38.00 C236.57,38.00 241.63,38.32 246.10,38.35 C250.57,38.38 252.35,38.19 258.60,38.20 C264.85,38.21 276.93,38.21 283.60,38.40 C290.27,38.59 293.60,39.03 298.60,39.35 C303.60,39.67 306.70,40.06 313.60,40.30 C320.50,40.54 333.10,40.70 340.00,40.80 C346.90,40.90 350.00,40.87 355.00,40.90 C360.00,40.93 364.67,40.98 370.00,41.00 C375.33,41.02 381.33,41.00 387.00,41.00 C392.67,41.00 401.17,41.00 404.00,41.00" fill="none" stroke="#000" stroke-width="1.35"/>
<rect x="62.15" y="28" width="339.60" height="1.75" fill="url(#reda)"/>
<text x="219.35" y="181.25" font-family="Liberation Sans" font-size="11" textLength="18.5" lengthAdjust="spacingAndGlyphs" fill="#000" stroke="#000" stroke-width="0.2" transform="rotate(0 228.60 177.00)">300</text>
<text x="218.25" y="76.25" font-family="Liberation Sans" font-size="11" textLength="18.5" lengthAdjust="spacingAndGlyphs" fill="#000" stroke="#000" stroke-width="0.2" transform="rotate(0 227.50 72.00)">320</text>
<text x="147.75" y="62.65" font-family="Liberation Sans" font-size="11" textLength="18.5" lengthAdjust="spacingAndGlyphs" fill="#000" stroke="#000" stroke-width="0.2" transform="rotate(-4 157.00 58.40)">340</text>
<text x="119.45" y="58.65" font-family="Liberation Sans" font-size="11" textLength="18.5" lengthAdjust="spacingAndGlyphs" fill="#000" stroke="#000" stroke-width="0.2" transform="rotate(0 128.70 54.40)">360</text>
<text x="192.75" y="46.95" font-family="Liberation Sans" font-size="11" textLength="18.5" lengthAdjust="spacingAndGlyphs" fill="#000" stroke="#000" stroke-width="0.2" transform="rotate(-3 202.00 42.70)">380</text>
<text x="220.25" y="47.15" font-family="Liberation Sans" font-size="11" textLength="18.5" lengthAdjust="spacingAndGlyphs" fill="#000" stroke="#000" stroke-width="0.2" transform="rotate(0 229.50 42.90)">380</text>
<text x="92.25" y="44.25" font-family="Liberation Sans" font-size="11" textLength="18.5" lengthAdjust="spacingAndGlyphs" fill="#000" stroke="#000" stroke-width="0.2" transform="rotate(0 101.50 40.00)">420</text>
<text x="164.75" y="44.05" font-family="Liberation Sans" font-size="11" textLength="18.5" lengthAdjust="spacingAndGlyphs" fill="#000" stroke="#000" stroke-width="0.2" transform="rotate(-3 174.00 39.80)">400</text>
</g>
<path d="M62.15,27.30 L62.15,221.90 L401.75,221.90 L401.75,27.30" fill="none" stroke="#000" stroke-width="1.9"/>
<rect x="61.15" y="27.6" width="341.60" height="0.6" fill="#000"/>
<rect x="79.45" y="222.80" width="1.1" height="3.0" fill="#000"/>
<rect x="79.45" y="24.00" width="1.1" height="3.3" fill="#000"/>
<rect x="98.43" y="222.80" width="1.1" height="3.0" fill="#000"/>
<rect x="98.43" y="24.00" width="1.1" height="3.3" fill="#000"/>
<rect x="116.95" y="222.80" width="2" height="6.9" fill="#000"/>
<rect x="116.95" y="20.10" width="2" height="7.2" fill="#000"/>
<rect x="136.38" y="222.80" width="1.1" height="3.0" fill="#000"/>
<rect x="136.38" y="24.00" width="1.1" height="3.3" fill="#000"/>
<rect x="155.35" y="222.80" width="1.1" height="3.0" fill="#000"/>
<rect x="155.35" y="24.00" width="1.1" height="3.3" fill="#000"/>
<rect x="173.88" y="222.80" width="2" height="6.9" fill="#000"/>
<rect x="173.88" y="20.10" width="2" height="7.2" fill="#000"/>
<rect x="193.30" y="222.80" width="1.1" height="3.0" fill="#000"/>
<rect x="193.30" y="24.00" width="1.1" height="3.3" fill="#000"/>
<rect x="212.28" y="222.80" width="1.1" height="3.0" fill="#000"/>
<rect x="212.28" y="24.00" width="1.1" height="3.3" fill="#000"/>
<rect x="230.80" y="222.80" width="2" height="6.9" fill="#000"/>
<rect x="230.80" y="20.10" width="2" height="7.2" fill="#000"/>
<rect x="250.22" y="222.80" width="1.1" height="3.0" fill="#000"/>
<rect x="250.22" y="24.00" width="1.1" height="3.3" fill="#000"/>
<rect x="269.20" y="222.80" width="1.1" height="3.0" fill="#000"/>
<rect x="269.20" y="24.00" width="1.1" height="3.3" fill="#000"/>
<rect x="287.73" y="222.80" width="2" height="6.9" fill="#000"/>
<rect x="287.73" y="20.10" width="2" height="7.2" fill="#000"/>
<rect x="307.15" y="222.80" width="1.1" height="3.0" fill="#000"/>
<rect x="307.15" y="24.00" width="1.1" height="3.3" fill="#000"/>
<rect x="326.12" y="222.80" width="1.1" height="3.0" fill="#000"/>
<rect x="326.12" y="24.00" width="1.1" height="3.3" fill="#000"/>
<rect x="344.65" y="222.80" width="2" height="6.9" fill="#000"/>
<rect x="344.65" y="20.10" width="2" height="7.2" fill="#000"/>
<rect x="364.07" y="222.80" width="1.1" height="3.0" fill="#000"/>
<rect x="364.07" y="24.00" width="1.1" height="3.3" fill="#000"/>
<rect x="383.05" y="222.80" width="1.1" height="3.0" fill="#000"/>
<rect x="383.05" y="24.00" width="1.1" height="3.3" fill="#000"/>
<rect x="54.05" y="64.05" width="7.6" height="1.8" fill="#000"/>
<rect x="402.25" y="64.05" width="7.0" height="1.8" fill="#000"/>
<text x="29.35" y="69.55" font-family="Liberation Serif" font-size="14" textLength="16.5" lengthAdjust="spacingAndGlyphs" fill="#000" stroke="#000" stroke-width="0.25">0.2</text>
<rect x="54.05" y="104.05" width="7.6" height="1.8" fill="#000"/>
<rect x="402.25" y="104.05" width="7.0" height="1.8" fill="#000"/>
<text x="29.35" y="109.55" font-family="Liberation Serif" font-size="14" textLength="16.5" lengthAdjust="spacingAndGlyphs" fill="#000" stroke="#000" stroke-width="0.25">0.4</text>
<rect x="54.05" y="144.05" width="7.6" height="1.8" fill="#000"/>
<rect x="402.25" y="144.05" width="7.0" height="1.8" fill="#000"/>
<text x="29.35" y="149.55" font-family="Liberation Serif" font-size="14" textLength="16.5" lengthAdjust="spacingAndGlyphs" fill="#000" stroke="#000" stroke-width="0.25">0.6</text>
<rect x="54.05" y="184.05" width="7.6" height="1.8" fill="#000"/>
<rect x="402.25" y="184.05" width="7.0" height="1.8" fill="#000"/>
<text x="29.35" y="189.55" font-family="Liberation Serif" font-size="14" textLength="16.5" lengthAdjust="spacingAndGlyphs" fill="#000" stroke="#000" stroke-width="0.25">0.8</text>
<text x="105.90" y="247.2" font-family="Liberation Serif" font-size="14" textLength="24.1" lengthAdjust="spacingAndGlyphs" fill="#000" stroke="#000" stroke-width="0.25">60S</text>
<text x="162.68" y="247.2" font-family="Liberation Serif" font-size="14" textLength="24.4" lengthAdjust="spacingAndGlyphs" fill="#000" stroke="#000" stroke-width="0.25">30S</text>
<text x="228.45" y="247.2" font-family="Liberation Serif" font-size="14" textLength="6.7" lengthAdjust="spacingAndGlyphs" fill="#000" stroke="#000" stroke-width="0.25">0</text>
<text x="276.18" y="247.2" font-family="Liberation Serif" font-size="14" textLength="25.1" lengthAdjust="spacingAndGlyphs" fill="#000" stroke="#000" stroke-width="0.25">30N</text>
<text x="332.85" y="247.2" font-family="Liberation Serif" font-size="14" textLength="25.6" lengthAdjust="spacingAndGlyphs" fill="#000" stroke="#000" stroke-width="0.25">60N</text>
<clipPath id="clipb"><rect x="480.90" y="27.30" width="339.05" height="194.60"/></clipPath>
<g clip-path="url(#clipb)">
<rect x="478.90" y="26.30" width="343.05" height="197.60" fill="rgb(85,0,160)"/>
<path d="M478.00,94.80 C482.17,94.80 497.00,94.72 503.00,94.80 C509.00,94.88 511.17,95.10 514.00,95.30 C516.83,95.50 516.93,95.48 520.00,96.00 C523.07,96.52 529.08,97.40 532.40,98.40 C535.72,99.40 536.98,99.97 539.90,102.00 C542.82,104.03 546.58,107.70 549.90,110.60 C553.22,113.50 556.48,116.67 559.80,119.40 C563.12,122.13 565.62,124.43 569.80,127.00 C573.98,129.57 579.88,132.25 584.90,134.80 C589.92,137.35 595.75,140.02 599.90,142.30 C604.05,144.58 606.48,146.77 609.80,148.50 C613.12,150.23 615.60,151.67 619.80,152.70 C624.00,153.73 629.88,154.40 635.00,154.70 C640.12,155.00 645.33,154.50 650.50,154.50 C655.67,154.50 660.67,155.00 666.00,154.70 C671.33,154.40 678.08,153.73 682.50,152.70 C686.92,151.67 689.18,150.23 692.50,148.50 C695.82,146.77 698.25,144.58 702.40,142.30 C706.55,140.02 712.38,137.35 717.40,134.80 C722.42,132.25 728.32,129.54 732.50,127.01 C736.68,124.48 739.18,122.28 742.50,119.61 C745.82,116.95 749.08,113.85 752.40,111.01 C755.72,108.18 759.48,104.59 762.40,102.61 C765.32,100.64 766.58,100.10 769.90,99.16 C773.22,98.23 779.23,97.47 782.30,97.01 C785.37,96.55 785.51,96.60 788.30,96.43 C791.09,96.26 793.23,96.07 799.06,96.00 C804.88,95.93 819.21,96.00 823.24,96.00 L823.24,23.30 L478.00,23.30 Z" fill="rgb(73,0,193)" stroke="none"/>
<path d="M478.00,85.50 C481.50,85.56 492.00,85.73 499.00,85.85 C506.00,85.97 514.00,86.01 520.00,86.20 C526.00,86.39 530.85,86.62 535.00,87.00 C539.15,87.38 541.18,87.57 544.90,88.50 C548.62,89.43 553.15,90.47 557.30,92.60 C561.45,94.73 566.07,98.27 569.80,101.30 C573.53,104.33 576.38,107.58 579.70,110.80 C583.02,114.02 586.38,117.27 589.70,120.60 C593.02,123.93 597.08,128.10 599.60,130.80 C602.12,133.50 602.48,134.55 604.80,136.80 C607.12,139.05 610.63,142.57 613.50,144.30 C616.37,146.03 617.92,146.63 622.00,147.20 C626.08,147.77 633.25,147.62 638.00,147.70 C642.75,147.78 646.33,147.70 650.50,147.70 C654.67,147.70 658.03,147.78 663.00,147.70 C667.97,147.62 676.00,147.77 680.30,147.20 C684.60,146.63 685.93,146.03 688.80,144.30 C691.67,142.57 695.18,139.05 697.50,136.80 C699.82,134.55 700.18,133.50 702.70,130.80 C705.22,128.10 709.28,123.93 712.60,120.60 C715.92,117.27 719.28,114.01 722.60,110.80 C725.92,107.59 728.77,104.30 732.50,101.31 C736.23,98.32 740.85,94.91 745.00,92.86 C749.15,90.81 753.68,89.87 757.40,89.01 C761.12,88.15 763.15,88.01 767.30,87.71 C771.45,87.41 776.39,87.34 782.30,87.21 C788.21,87.08 795.95,87.04 802.77,86.96 C809.60,86.87 819.83,86.74 823.24,86.70 L823.24,23.30 L478.00,23.30 Z" fill="rgb(53,0,224)" stroke="none"/>
<path d="M478.00,78.60 C482.17,78.62 494.67,78.67 503.00,78.70 C511.33,78.73 521.00,78.68 528.00,78.80 C535.00,78.92 540.12,79.10 545.00,79.40 C549.88,79.70 553.17,79.83 557.30,80.60 C561.43,81.37 566.52,82.65 569.80,84.00 C573.08,85.35 574.88,87.00 577.00,88.70 C579.12,90.40 580.67,92.15 582.50,94.20 C584.33,96.25 585.97,98.43 588.00,101.00 C590.03,103.57 592.53,106.67 594.70,109.60 C596.87,112.53 599.12,115.90 601.00,118.60 C602.88,121.30 604.12,123.33 606.00,125.80 C607.88,128.27 609.60,131.07 612.30,133.40 C615.00,135.73 618.47,138.40 622.20,139.80 C625.93,141.20 629.98,141.38 634.70,141.80 C639.42,142.22 645.23,142.30 650.50,142.30 C655.77,142.30 661.37,142.22 666.30,141.80 C671.23,141.38 676.15,141.20 680.10,139.80 C684.05,138.40 687.30,135.73 690.00,133.40 C692.70,131.07 694.42,128.27 696.30,125.80 C698.18,123.33 699.42,121.30 701.30,118.60 C703.18,115.90 705.43,112.53 707.60,109.60 C709.77,106.67 712.27,103.57 714.30,101.00 C716.33,98.43 717.97,96.25 719.80,94.20 C721.63,92.15 723.18,90.40 725.30,88.70 C727.42,87.00 729.22,85.33 732.50,84.01 C735.78,82.68 740.87,81.47 745.00,80.75 C749.13,80.04 752.42,79.94 757.30,79.70 C762.18,79.45 767.39,79.36 774.30,79.30 C781.21,79.23 790.61,79.30 798.77,79.30 C806.93,79.30 819.17,79.30 823.24,79.30 L823.24,23.30 L478.00,23.30 Z" fill="rgb(30,0,252)" stroke="none"/>
<path d="M478.00,72.90 C482.17,72.90 494.67,72.90 503.00,72.90 C511.33,72.90 519.67,72.90 528.00,72.90 C536.33,72.90 546.00,72.78 553.00,72.90 C560.00,73.02 565.50,73.17 570.00,73.60 C574.50,74.03 577.17,74.50 580.00,75.50 C582.83,76.50 584.95,77.93 587.00,79.60 C589.05,81.27 590.72,83.18 592.30,85.50 C593.88,87.82 595.22,90.92 596.50,93.50 C597.78,96.08 598.75,98.67 600.00,101.00 C601.25,103.33 602.50,105.08 604.00,107.50 C605.50,109.92 607.37,112.92 609.00,115.50 C610.63,118.08 611.60,120.28 613.80,123.00 C616.00,125.72 618.72,129.63 622.20,131.80 C625.68,133.97 629.98,135.17 634.70,136.00 C639.42,136.83 645.23,136.80 650.50,136.80 C655.77,136.80 661.37,136.83 666.30,136.00 C671.23,135.17 676.40,133.97 680.10,131.80 C683.80,129.63 686.30,125.72 688.50,123.00 C690.70,120.28 691.67,118.08 693.30,115.50 C694.93,112.92 696.80,109.92 698.30,107.50 C699.80,105.08 701.05,103.33 702.30,101.00 C703.55,98.67 704.52,96.08 705.80,93.50 C707.08,90.92 708.42,87.82 710.00,85.50 C711.58,83.18 713.25,81.27 715.30,79.60 C717.35,77.93 719.47,76.50 722.30,75.50 C725.13,74.50 727.80,74.01 732.30,73.61 C736.80,73.21 742.36,73.16 749.30,73.10 C756.24,73.05 765.73,73.21 773.95,73.27 C782.16,73.32 790.38,73.38 798.60,73.43 C806.81,73.49 819.14,73.57 823.24,73.60 L823.24,23.30 L478.00,23.30 Z" fill="rgb(10,12,255)" stroke="none"/>
<path d="M478.00,67.90 C482.17,67.90 494.67,67.90 503.00,67.90 C511.33,67.90 519.67,67.90 528.00,67.90 C536.33,67.90 544.67,67.90 553.00,67.90 C561.33,67.90 572.67,67.83 578.00,67.90 C583.33,67.97 582.60,67.77 585.00,68.30 C587.40,68.83 590.13,69.60 592.40,71.10 C594.67,72.60 596.73,74.60 598.60,77.30 C600.47,80.00 602.15,84.18 603.60,87.30 C605.05,90.42 606.15,93.52 607.30,96.00 C608.45,98.48 609.47,100.30 610.50,102.20 C611.53,104.10 611.95,104.87 613.50,107.40 C615.05,109.93 617.10,114.48 619.80,117.40 C622.50,120.32 626.00,123.17 629.70,124.90 C633.40,126.63 638.53,127.32 642.00,127.80 C645.47,128.28 647.67,127.80 650.50,127.80 C653.33,127.80 655.53,128.28 659.00,127.80 C662.47,127.32 667.38,126.63 671.30,124.90 C675.22,123.17 679.58,120.32 682.50,117.40 C685.42,114.48 687.25,109.93 688.80,107.40 C690.35,104.87 690.77,104.10 691.80,102.20 C692.83,100.30 693.85,98.48 695.00,96.00 C696.15,93.52 697.25,90.42 698.70,87.30 C700.15,84.18 701.83,80.00 703.70,77.30 C705.57,74.60 707.63,72.60 709.90,71.10 C712.17,69.60 714.90,68.83 717.30,68.30 C719.70,67.77 719.01,67.95 724.30,67.90 C729.59,67.85 740.79,67.95 749.04,67.98 C757.28,68.00 765.53,68.03 773.77,68.05 C782.02,68.08 790.26,68.10 798.51,68.12 C806.75,68.15 819.12,68.19 823.24,68.20 L823.24,23.30 L478.00,23.30 Z" fill="rgb(0,40,255)" stroke="none"/>
<path d="M478.00,63.20 C482.46,63.20 495.83,63.18 504.75,63.18 C513.67,63.17 522.58,63.16 531.50,63.15 C540.42,63.14 549.33,63.13 558.25,63.12 C567.17,63.12 578.89,62.94 585.00,63.10 C591.11,63.26 591.60,63.38 594.90,64.10 C598.20,64.82 601.90,65.82 604.80,67.40 C607.70,68.98 609.80,70.92 612.30,73.60 C614.80,76.28 617.32,80.60 619.80,83.50 C622.28,86.40 624.30,88.92 627.20,91.00 C630.10,93.08 633.32,94.88 637.20,96.00 C641.08,97.12 646.07,97.70 650.50,97.70 C654.93,97.70 659.70,97.12 663.80,96.00 C667.90,94.88 671.98,93.08 675.10,91.00 C678.22,88.92 680.02,86.40 682.50,83.50 C684.98,80.60 687.50,76.28 690.00,73.60 C692.50,70.92 694.60,68.98 697.50,67.40 C700.40,65.82 704.10,64.82 707.40,64.10 C710.70,63.38 711.24,63.25 717.30,63.10 C723.36,62.95 734.96,63.17 743.79,63.20 C752.61,63.23 761.44,63.27 770.27,63.30 C779.10,63.33 787.93,63.37 796.76,63.40 C805.59,63.43 818.83,63.48 823.24,63.50 L823.24,23.30 L478.00,23.30 Z" fill="rgb(0,66,255)" stroke="none"/>
<path d="M478.00,59.60 C481.83,59.60 493.33,59.58 501.00,59.58 C508.67,59.57 516.33,59.56 524.00,59.55 C531.67,59.54 539.33,59.53 547.00,59.52 C554.67,59.52 562.00,59.35 570.00,59.50 C578.00,59.65 588.00,60.20 595.00,60.40 C602.00,60.60 607.00,60.68 612.00,60.70 C617.00,60.72 620.33,60.65 625.00,60.50 C629.67,60.35 635.75,59.95 640.00,59.80 C644.25,59.65 647.00,59.60 650.50,59.60 C654.00,59.60 656.75,59.75 661.00,59.80 C665.25,59.85 671.33,59.85 676.00,59.90 C680.67,59.95 684.00,59.75 689.00,60.10 C694.00,60.45 699.00,61.85 706.00,62.00 C713.00,62.15 723.00,61.19 731.00,61.00 C739.00,60.81 746.33,60.92 754.00,60.88 C761.67,60.83 769.33,60.79 777.00,60.75 C784.67,60.71 792.33,60.67 800.00,60.62 C807.67,60.58 819.17,60.52 823.00,60.50 L823.00,23.30 L478.00,23.30 Z" fill="rgb(0,88,255)" stroke="none"/>
<path d="M478.00,56.30 C481.83,56.30 493.33,56.30 501.00,56.30 C508.67,56.30 516.33,56.30 524.00,56.30 C531.67,56.30 539.33,56.30 547.00,56.30 C554.67,56.30 562.00,56.18 570.00,56.30 C578.00,56.42 588.00,56.97 595.00,57.00 C602.00,57.03 607.00,56.67 612.00,56.50 C617.00,56.33 620.33,56.17 625.00,56.00 C629.67,55.83 635.75,55.62 640.00,55.50 C644.25,55.38 647.00,55.30 650.50,55.30 C654.00,55.30 656.75,55.47 661.00,55.50 C665.25,55.53 671.33,55.41 676.00,55.49 C680.67,55.57 684.00,55.51 689.00,55.99 C694.00,56.47 699.00,58.10 706.00,58.36 C713.00,58.62 723.00,57.72 731.00,57.57 C739.00,57.43 746.33,57.51 754.00,57.48 C761.67,57.45 769.33,57.42 777.00,57.39 C784.67,57.36 792.33,57.32 800.00,57.29 C807.67,57.26 819.17,57.22 823.00,57.20 L823.00,23.30 L478.00,23.30 Z" fill="rgb(0,116,255)" stroke="none"/>
<path d="M478.00,53.20 C481.83,53.21 493.33,53.25 501.00,53.28 C508.67,53.30 516.33,53.33 524.00,53.35 C531.67,53.38 539.33,53.40 547.00,53.42 C554.67,53.45 562.00,53.37 570.00,53.50 C578.00,53.63 588.00,54.17 595.00,54.20 C602.00,54.23 607.00,53.90 612.00,53.70 C617.00,53.50 620.33,53.23 625.00,53.00 C629.67,52.77 635.75,52.45 640.00,52.30 C644.25,52.15 647.00,52.10 650.50,52.10 C654.00,52.10 656.75,52.22 661.00,52.30 C665.25,52.38 671.33,52.42 676.00,52.58 C680.67,52.74 684.00,52.82 689.00,53.28 C694.00,53.74 699.00,55.11 706.00,55.32 C713.00,55.53 723.00,54.70 731.00,54.55 C739.00,54.40 746.33,54.48 754.00,54.44 C761.67,54.40 769.33,54.36 777.00,54.33 C784.67,54.29 792.33,54.25 800.00,54.21 C807.67,54.17 819.17,54.12 823.00,54.10 L823.00,23.30 L478.00,23.30 Z" fill="rgb(0,144,248)" stroke="none"/>
<path d="M478.00,50.50 C481.83,50.52 493.33,50.58 501.00,50.62 C508.67,50.67 516.33,50.71 524.00,50.75 C531.67,50.79 539.33,50.83 547.00,50.88 C554.67,50.92 562.00,50.81 570.00,51.00 C578.00,51.19 588.00,52.02 595.00,52.00 C602.00,51.98 607.00,51.20 612.00,50.90 C617.00,50.60 620.33,50.43 625.00,50.20 C629.67,49.97 635.75,49.65 640.00,49.50 C644.25,49.35 647.00,49.30 650.50,49.30 C654.00,49.30 656.75,49.41 661.00,49.50 C665.25,49.59 671.33,49.69 676.00,49.87 C680.67,50.05 684.00,50.07 689.00,50.57 C694.00,51.07 699.00,52.67 706.00,52.88 C713.00,53.09 723.00,52.02 731.00,51.83 C739.00,51.63 746.33,51.75 754.00,51.72 C761.67,51.68 769.33,51.65 777.00,51.61 C784.67,51.58 792.33,51.54 800.00,51.51 C807.67,51.47 819.17,51.42 823.00,51.40 L823.00,23.30 L478.00,23.30 Z" fill="rgb(0,170,232)" stroke="none"/>
<path d="M478.00,47.60 C481.83,47.63 493.33,47.72 501.00,47.77 C508.67,47.83 516.33,47.89 524.00,47.95 C531.67,48.01 539.33,48.07 547.00,48.12 C554.67,48.18 562.00,48.12 570.00,48.30 C578.00,48.48 588.00,49.13 595.00,49.20 C602.00,49.27 607.00,48.93 612.00,48.70 C617.00,48.47 620.33,48.08 625.00,47.80 C629.67,47.52 635.75,47.17 640.00,47.00 C644.25,46.83 647.00,46.80 650.50,46.80 C654.00,46.80 656.75,46.88 661.00,47.00 C665.25,47.12 671.33,47.29 676.00,47.53 C680.67,47.77 684.00,48.03 689.00,48.43 C694.00,48.83 699.00,49.83 706.00,49.92 C713.00,50.01 723.00,49.15 731.00,48.97 C739.00,48.80 746.33,48.90 754.00,48.86 C761.67,48.82 769.33,48.78 777.00,48.74 C784.67,48.70 792.33,48.66 800.00,48.62 C807.67,48.58 819.17,48.52 823.00,48.50 L823.00,23.30 L478.00,23.30 Z" fill="rgb(0,186,204)" stroke="none"/>
<path d="M478.00,45.30 C481.83,45.33 493.33,45.42 501.00,45.47 C508.67,45.53 516.33,45.59 524.00,45.65 C531.67,45.71 539.33,45.77 547.00,45.83 C554.67,45.88 562.00,45.84 570.00,46.00 C578.00,46.16 588.00,46.72 595.00,46.80 C602.00,46.88 607.00,46.73 612.00,46.50 C617.00,46.27 620.33,45.72 625.00,45.40 C629.67,45.08 635.75,44.78 640.00,44.60 C644.25,44.42 647.00,44.30 650.50,44.30 C654.00,44.30 656.75,44.45 661.00,44.60 C665.25,44.75 671.33,44.91 676.00,45.19 C680.67,45.47 684.00,45.93 689.00,46.29 C694.00,46.65 699.00,47.32 706.00,47.36 C713.00,47.40 723.00,46.69 731.00,46.52 C739.00,46.36 746.33,46.40 754.00,46.34 C761.67,46.28 769.33,46.22 777.00,46.16 C784.67,46.10 792.33,46.04 800.00,45.98 C807.67,45.92 819.17,45.83 823.00,45.80 L823.00,23.30 L478.00,23.30 Z" fill="rgb(0,175,160)" stroke="none"/>
<path d="M478.00,43.00 C481.83,43.03 493.33,43.13 501.00,43.20 C508.67,43.27 516.33,43.33 524.00,43.40 C531.67,43.47 539.33,43.53 547.00,43.60 C554.67,43.67 562.00,43.65 570.00,43.80 C578.00,43.95 588.00,44.42 595.00,44.50 C602.00,44.58 607.00,44.52 612.00,44.30 C617.00,44.08 620.33,43.52 625.00,43.20 C629.67,42.88 635.75,42.58 640.00,42.40 C644.25,42.22 647.00,42.10 650.50,42.10 C654.00,42.10 656.75,42.25 661.00,42.40 C665.25,42.55 671.33,42.73 676.00,43.02 C680.67,43.31 684.00,43.79 689.00,44.12 C694.00,44.45 699.00,44.96 706.00,44.98 C713.00,45.00 723.00,44.40 731.00,44.25 C739.00,44.10 746.33,44.12 754.00,44.06 C761.67,44.00 769.33,43.94 777.00,43.88 C784.67,43.81 792.33,43.75 800.00,43.69 C807.67,43.62 819.17,43.53 823.00,43.50 L823.00,23.30 L478.00,23.30 Z" fill="rgb(0,158,116)" stroke="none"/>
<path d="M478.00,40.70 C481.83,40.75 493.33,40.92 501.00,41.03 C508.67,41.13 516.33,41.24 524.00,41.35 C531.67,41.46 539.33,41.57 547.00,41.67 C554.67,41.78 562.00,41.88 570.00,42.00 C578.00,42.12 588.00,42.38 595.00,42.40 C602.00,42.42 607.00,42.30 612.00,42.10 C617.00,41.90 620.33,41.45 625.00,41.20 C629.67,40.95 635.75,40.75 640.00,40.60 C644.25,40.45 647.00,40.30 650.50,40.30 C654.00,40.30 656.75,40.48 661.00,40.60 C665.25,40.72 671.33,40.80 676.00,41.02 C680.67,41.24 684.00,41.61 689.00,41.92 C694.00,42.23 699.00,42.79 706.00,42.88 C713.00,42.97 723.00,42.57 731.00,42.45 C739.00,42.33 746.33,42.24 754.00,42.14 C761.67,42.03 769.33,41.93 777.00,41.83 C784.67,41.72 792.33,41.62 800.00,41.51 C807.67,41.41 819.17,41.25 823.00,41.20 L823.00,23.30 L478.00,23.30 Z" fill="rgb(0,128,84)" stroke="none"/>
<path d="M478.00,38.60 C481.83,38.66 493.33,38.83 501.00,38.95 C508.67,39.07 516.33,39.18 524.00,39.30 C531.67,39.42 539.33,39.53 547.00,39.65 C554.67,39.77 562.00,39.91 570.00,40.00 C578.00,40.09 588.00,40.20 595.00,40.20 C602.00,40.20 607.00,40.17 612.00,40.00 C617.00,39.83 620.33,39.40 625.00,39.20 C629.67,39.00 635.75,38.90 640.00,38.80 C644.25,38.70 647.00,38.60 650.50,38.60 C654.00,38.60 656.75,38.73 661.00,38.80 C665.25,38.87 671.33,38.85 676.00,39.02 C680.67,39.19 684.00,39.54 689.00,39.82 C694.00,40.10 699.00,40.58 706.00,40.68 C713.00,40.78 723.00,40.54 731.00,40.45 C739.00,40.36 746.33,40.23 754.00,40.11 C761.67,40.00 769.33,39.89 777.00,39.78 C784.67,39.66 792.33,39.55 800.00,39.44 C807.67,39.33 819.17,39.16 823.00,39.10 L823.00,23.30 L478.00,23.30 Z" fill="rgb(0,82,50)" stroke="none"/>
<rect x="478.90" y="26.30" width="343.05" height="14.30" fill="#000"/>
<rect x="478.90" y="35.5" width="343.05" height="5.3" fill="url(#dg)"/>
<path d="M478.00,94.80 C482.17,94.80 497.00,94.72 503.00,94.80 C509.00,94.88 511.17,95.10 514.00,95.30 C516.83,95.50 516.93,95.48 520.00,96.00 C523.07,96.52 529.08,97.40 532.40,98.40 C535.72,99.40 536.98,99.97 539.90,102.00 C542.82,104.03 546.58,107.70 549.90,110.60 C553.22,113.50 556.48,116.67 559.80,119.40 C563.12,122.13 565.62,124.43 569.80,127.00 C573.98,129.57 579.88,132.25 584.90,134.80 C589.92,137.35 595.75,140.02 599.90,142.30 C604.05,144.58 606.48,146.77 609.80,148.50 C613.12,150.23 615.60,151.67 619.80,152.70 C624.00,153.73 629.88,154.40 635.00,154.70 C640.12,155.00 645.33,154.50 650.50,154.50 C655.67,154.50 660.67,155.00 666.00,154.70 C671.33,154.40 678.08,153.73 682.50,152.70 C686.92,151.67 689.18,150.23 692.50,148.50 C695.82,146.77 698.25,144.58 702.40,142.30 C706.55,140.02 712.38,137.35 717.40,134.80 C722.42,132.25 728.32,129.54 732.50,127.01 C736.68,124.48 739.18,122.28 742.50,119.61 C745.82,116.95 749.08,113.85 752.40,111.01 C755.72,108.18 759.48,104.59 762.40,102.61 C765.32,100.64 766.58,100.10 769.90,99.16 C773.22,98.23 779.23,97.47 782.30,97.01 C785.37,96.55 785.51,96.60 788.30,96.43 C791.09,96.26 793.23,96.07 799.06,96.00 C804.88,95.93 819.21,96.00 823.24,96.00" fill="none" stroke="#000" stroke-width="1.35"/>
<path d="M478.00,85.50 C481.50,85.56 492.00,85.73 499.00,85.85 C506.00,85.97 514.00,86.01 520.00,86.20 C526.00,86.39 530.85,86.62 535.00,87.00 C539.15,87.38 541.18,87.57 544.90,88.50 C548.62,89.43 553.15,90.47 557.30,92.60 C561.45,94.73 566.07,98.27 569.80,101.30 C573.53,104.33 576.38,107.58 579.70,110.80 C583.02,114.02 586.38,117.27 589.70,120.60 C593.02,123.93 597.08,128.10 599.60,130.80 C602.12,133.50 602.48,134.55 604.80,136.80 C607.12,139.05 610.63,142.57 613.50,144.30 C616.37,146.03 617.92,146.63 622.00,147.20 C626.08,147.77 633.25,147.62 638.00,147.70 C642.75,147.78 646.33,147.70 650.50,147.70 C654.67,147.70 658.03,147.78 663.00,147.70 C667.97,147.62 676.00,147.77 680.30,147.20 C684.60,146.63 685.93,146.03 688.80,144.30 C691.67,142.57 695.18,139.05 697.50,136.80 C699.82,134.55 700.18,133.50 702.70,130.80 C705.22,128.10 709.28,123.93 712.60,120.60 C715.92,117.27 719.28,114.01 722.60,110.80 C725.92,107.59 728.77,104.30 732.50,101.31 C736.23,98.32 740.85,94.91 745.00,92.86 C749.15,90.81 753.68,89.87 757.40,89.01 C761.12,88.15 763.15,88.01 767.30,87.71 C771.45,87.41 776.39,87.34 782.30,87.21 C788.21,87.08 795.95,87.04 802.77,86.96 C809.60,86.87 819.83,86.74 823.24,86.70" fill="none" stroke="#000" stroke-width="1.35"/>
<path d="M478.00,78.60 C482.17,78.62 494.67,78.67 503.00,78.70 C511.33,78.73 521.00,78.68 528.00,78.80 C535.00,78.92 540.12,79.10 545.00,79.40 C549.88,79.70 553.17,79.83 557.30,80.60 C561.43,81.37 566.52,82.65 569.80,84.00 C573.08,85.35 574.88,87.00 577.00,88.70 C579.12,90.40 580.67,92.15 582.50,94.20 C584.33,96.25 585.97,98.43 588.00,101.00 C590.03,103.57 592.53,106.67 594.70,109.60 C596.87,112.53 599.12,115.90 601.00,118.60 C602.88,121.30 604.12,123.33 606.00,125.80 C607.88,128.27 609.60,131.07 612.30,133.40 C615.00,135.73 618.47,138.40 622.20,139.80 C625.93,141.20 629.98,141.38 634.70,141.80 C639.42,142.22 645.23,142.30 650.50,142.30 C655.77,142.30 661.37,142.22 666.30,141.80 C671.23,141.38 676.15,141.20 680.10,139.80 C684.05,138.40 687.30,135.73 690.00,133.40 C692.70,131.07 694.42,128.27 696.30,125.80 C698.18,123.33 699.42,121.30 701.30,118.60 C703.18,115.90 705.43,112.53 707.60,109.60 C709.77,106.67 712.27,103.57 714.30,101.00 C716.33,98.43 717.97,96.25 719.80,94.20 C721.63,92.15 723.18,90.40 725.30,88.70 C727.42,87.00 729.22,85.33 732.50,84.01 C735.78,82.68 740.87,81.47 745.00,80.75 C749.13,80.04 752.42,79.94 757.30,79.70 C762.18,79.45 767.39,79.36 774.30,79.30 C781.21,79.23 790.61,79.30 798.77,79.30 C806.93,79.30 819.17,79.30 823.24,79.30" fill="none" stroke="#000" stroke-width="1.35"/>
<path d="M478.00,72.90 C482.17,72.90 494.67,72.90 503.00,72.90 C511.33,72.90 519.67,72.90 528.00,72.90 C536.33,72.90 546.00,72.78 553.00,72.90 C560.00,73.02 565.50,73.17 570.00,73.60 C574.50,74.03 577.17,74.50 580.00,75.50 C582.83,76.50 584.95,77.93 587.00,79.60 C589.05,81.27 590.72,83.18 592.30,85.50 C593.88,87.82 595.22,90.92 596.50,93.50 C597.78,96.08 598.75,98.67 600.00,101.00 C601.25,103.33 602.50,105.08 604.00,107.50 C605.50,109.92 607.37,112.92 609.00,115.50 C610.63,118.08 611.60,120.28 613.80,123.00 C616.00,125.72 618.72,129.63 622.20,131.80 C625.68,133.97 629.98,135.17 634.70,136.00 C639.42,136.83 645.23,136.80 650.50,136.80 C655.77,136.80 661.37,136.83 666.30,136.00 C671.23,135.17 676.40,133.97 680.10,131.80 C683.80,129.63 686.30,125.72 688.50,123.00 C690.70,120.28 691.67,118.08 693.30,115.50 C694.93,112.92 696.80,109.92 698.30,107.50 C699.80,105.08 701.05,103.33 702.30,101.00 C703.55,98.67 704.52,96.08 705.80,93.50 C707.08,90.92 708.42,87.82 710.00,85.50 C711.58,83.18 713.25,81.27 715.30,79.60 C717.35,77.93 719.47,76.50 722.30,75.50 C725.13,74.50 727.80,74.01 732.30,73.61 C736.80,73.21 742.36,73.16 749.30,73.10 C756.24,73.05 765.73,73.21 773.95,73.27 C782.16,73.32 790.38,73.38 798.60,73.43 C806.81,73.49 819.14,73.57 823.24,73.60" fill="none" stroke="#000" stroke-width="1.35"/>
<path d="M478.00,67.90 C482.17,67.90 494.67,67.90 503.00,67.90 C511.33,67.90 519.67,67.90 528.00,67.90 C536.33,67.90 544.67,67.90 553.00,67.90 C561.33,67.90 572.67,67.83 578.00,67.90 C583.33,67.97 582.60,67.77 585.00,68.30 C587.40,68.83 590.13,69.60 592.40,71.10 C594.67,72.60 596.73,74.60 598.60,77.30 C600.47,80.00 602.15,84.18 603.60,87.30 C605.05,90.42 606.15,93.52 607.30,96.00 C608.45,98.48 609.47,100.30 610.50,102.20 C611.53,104.10 611.95,104.87 613.50,107.40 C615.05,109.93 617.10,114.48 619.80,117.40 C622.50,120.32 626.00,123.17 629.70,124.90 C633.40,126.63 638.53,127.32 642.00,127.80 C645.47,128.28 647.67,127.80 650.50,127.80 C653.33,127.80 655.53,128.28 659.00,127.80 C662.47,127.32 667.38,126.63 671.30,124.90 C675.22,123.17 679.58,120.32 682.50,117.40 C685.42,114.48 687.25,109.93 688.80,107.40 C690.35,104.87 690.77,104.10 691.80,102.20 C692.83,100.30 693.85,98.48 695.00,96.00 C696.15,93.52 697.25,90.42 698.70,87.30 C700.15,84.18 701.83,80.00 703.70,77.30 C705.57,74.60 707.63,72.60 709.90,71.10 C712.17,69.60 714.90,68.83 717.30,68.30 C719.70,67.77 719.01,67.95 724.30,67.90 C729.59,67.85 740.79,67.95 749.04,67.98 C757.28,68.00 765.53,68.03 773.77,68.05 C782.02,68.08 790.26,68.10 798.51,68.12 C806.75,68.15 819.12,68.19 823.24,68.20" fill="none" stroke="#000" stroke-width="1.35"/>
<path d="M478.00,63.20 C482.46,63.20 495.83,63.18 504.75,63.18 C513.67,63.17 522.58,63.16 531.50,63.15 C540.42,63.14 549.33,63.13 558.25,63.12 C567.17,63.12 578.89,62.94 585.00,63.10 C591.11,63.26 591.60,63.38 594.90,64.10 C598.20,64.82 601.90,65.82 604.80,67.40 C607.70,68.98 609.80,70.92 612.30,73.60 C614.80,76.28 617.32,80.60 619.80,83.50 C622.28,86.40 624.30,88.92 627.20,91.00 C630.10,93.08 633.32,94.88 637.20,96.00 C641.08,97.12 646.07,97.70 650.50,97.70 C654.93,97.70 659.70,97.12 663.80,96.00 C667.90,94.88 671.98,93.08 675.10,91.00 C678.22,88.92 680.02,86.40 682.50,83.50 C684.98,80.60 687.50,76.28 690.00,73.60 C692.50,70.92 694.60,68.98 697.50,67.40 C700.40,65.82 704.10,64.82 707.40,64.10 C710.70,63.38 711.24,63.25 717.30,63.10 C723.36,62.95 734.96,63.17 743.79,63.20 C752.61,63.23 761.44,63.27 770.27,63.30 C779.10,63.33 787.93,63.37 796.76,63.40 C805.59,63.43 818.83,63.48 823.24,63.50" fill="none" stroke="#000" stroke-width="1.35"/>
<path d="M478.00,59.60 C481.83,59.60 493.33,59.58 501.00,59.58 C508.67,59.57 516.33,59.56 524.00,59.55 C531.67,59.54 539.33,59.53 547.00,59.52 C554.67,59.52 562.00,59.35 570.00,59.50 C578.00,59.65 588.00,60.20 595.00,60.40 C602.00,60.60 607.00,60.68 612.00,60.70 C617.00,60.72 620.33,60.65 625.00,60.50 C629.67,60.35 635.75,59.95 640.00,59.80 C644.25,59.65 647.00,59.60 650.50,59.60 C654.00,59.60 656.75,59.75 661.00,59.80 C665.25,59.85 671.33,59.85 676.00,59.90 C680.67,59.95 684.00,59.75 689.00,60.10 C694.00,60.45 699.00,61.85 706.00,62.00 C713.00,62.15 723.00,61.19 731.00,61.00 C739.00,60.81 746.33,60.92 754.00,60.88 C761.67,60.83 769.33,60.79 777.00,60.75 C784.67,60.71 792.33,60.67 800.00,60.62 C807.67,60.58 819.17,60.52 823.00,60.50" fill="none" stroke="#000" stroke-width="1.35"/>
<path d="M478.00,56.30 C481.83,56.30 493.33,56.30 501.00,56.30 C508.67,56.30 516.33,56.30 524.00,56.30 C531.67,56.30 539.33,56.30 547.00,56.30 C554.67,56.30 562.00,56.18 570.00,56.30 C578.00,56.42 588.00,56.97 595.00,57.00 C602.00,57.03 607.00,56.67 612.00,56.50 C617.00,56.33 620.33,56.17 625.00,56.00 C629.67,55.83 635.75,55.62 640.00,55.50 C644.25,55.38 647.00,55.30 650.50,55.30 C654.00,55.30 656.75,55.47 661.00,55.50 C665.25,55.53 671.33,55.41 676.00,55.49 C680.67,55.57 684.00,55.51 689.00,55.99 C694.00,56.47 699.00,58.10 706.00,58.36 C713.00,58.62 723.00,57.72 731.00,57.57 C739.00,57.43 746.33,57.51 754.00,57.48 C761.67,57.45 769.33,57.42 777.00,57.39 C784.67,57.36 792.33,57.32 800.00,57.29 C807.67,57.26 819.17,57.22 823.00,57.20" fill="none" stroke="#000" stroke-width="1.35"/>
<path d="M478.00,53.20 C481.83,53.21 493.33,53.25 501.00,53.28 C508.67,53.30 516.33,53.33 524.00,53.35 C531.67,53.38 539.33,53.40 547.00,53.42 C554.67,53.45 562.00,53.37 570.00,53.50 C578.00,53.63 588.00,54.17 595.00,54.20 C602.00,54.23 607.00,53.90 612.00,53.70 C617.00,53.50 620.33,53.23 625.00,53.00 C629.67,52.77 635.75,52.45 640.00,52.30 C644.25,52.15 647.00,52.10 650.50,52.10 C654.00,52.10 656.75,52.22 661.00,52.30 C665.25,52.38 671.33,52.42 676.00,52.58 C680.67,52.74 684.00,52.82 689.00,53.28 C694.00,53.74 699.00,55.11 706.00,55.32 C713.00,55.53 723.00,54.70 731.00,54.55 C739.00,54.40 746.33,54.48 754.00,54.44 C761.67,54.40 769.33,54.36 777.00,54.33 C784.67,54.29 792.33,54.25 800.00,54.21 C807.67,54.17 819.17,54.12 823.00,54.10" fill="none" stroke="#000" stroke-width="1.35"/>
<path d="M478.00,50.50 C481.83,50.52 493.33,50.58 501.00,50.62 C508.67,50.67 516.33,50.71 524.00,50.75 C531.67,50.79 539.33,50.83 547.00,50.88 C554.67,50.92 562.00,50.81 570.00,51.00 C578.00,51.19 588.00,52.02 595.00,52.00 C602.00,51.98 607.00,51.20 612.00,50.90 C617.00,50.60 620.33,50.43 625.00,50.20 C629.67,49.97 635.75,49.65 640.00,49.50 C644.25,49.35 647.00,49.30 650.50,49.30 C654.00,49.30 656.75,49.41 661.00,49.50 C665.25,49.59 671.33,49.69 676.00,49.87 C680.67,50.05 684.00,50.07 689.00,50.57 C694.00,51.07 699.00,52.67 706.00,52.88 C713.00,53.09 723.00,52.02 731.00,51.83 C739.00,51.63 746.33,51.75 754.00,51.72 C761.67,51.68 769.33,51.65 777.00,51.61 C784.67,51.58 792.33,51.54 800.00,51.51 C807.67,51.47 819.17,51.42 823.00,51.40" fill="none" stroke="#000" stroke-width="1.35"/>
<path d="M478.00,47.60 C481.83,47.63 493.33,47.72 501.00,47.77 C508.67,47.83 516.33,47.89 524.00,47.95 C531.67,48.01 539.33,48.07 547.00,48.12 C554.67,48.18 562.00,48.12 570.00,48.30 C578.00,48.48 588.00,49.13 595.00,49.20 C602.00,49.27 607.00,48.93 612.00,48.70 C617.00,48.47 620.33,48.08 625.00,47.80 C629.67,47.52 635.75,47.17 640.00,47.00 C644.25,46.83 647.00,46.80 650.50,46.80 C654.00,46.80 656.75,46.88 661.00,47.00 C665.25,47.12 671.33,47.29 676.00,47.53 C680.67,47.77 684.00,48.03 689.00,48.43 C694.00,48.83 699.00,49.83 706.00,49.92 C713.00,50.01 723.00,49.15 731.00,48.97 C739.00,48.80 746.33,48.90 754.00,48.86 C761.67,48.82 769.33,48.78 777.00,48.74 C784.67,48.70 792.33,48.66 800.00,48.62 C807.67,48.58 819.17,48.52 823.00,48.50" fill="none" stroke="#000" stroke-width="1.35"/>
<path d="M478.00,45.30 C481.83,45.33 493.33,45.42 501.00,45.47 C508.67,45.53 516.33,45.59 524.00,45.65 C531.67,45.71 539.33,45.77 547.00,45.83 C554.67,45.88 562.00,45.84 570.00,46.00 C578.00,46.16 588.00,46.72 595.00,46.80 C602.00,46.88 607.00,46.73 612.00,46.50 C617.00,46.27 620.33,45.72 625.00,45.40 C629.67,45.08 635.75,44.78 640.00,44.60 C644.25,44.42 647.00,44.30 650.50,44.30 C654.00,44.30 656.75,44.45 661.00,44.60 C665.25,44.75 671.33,44.91 676.00,45.19 C680.67,45.47 684.00,45.93 689.00,46.29 C694.00,46.65 699.00,47.32 706.00,47.36 C713.00,47.40 723.00,46.69 731.00,46.52 C739.00,46.36 746.33,46.40 754.00,46.34 C761.67,46.28 769.33,46.22 777.00,46.16 C784.67,46.10 792.33,46.04 800.00,45.98 C807.67,45.92 819.17,45.83 823.00,45.80" fill="none" stroke="#000" stroke-width="1.35"/>
<path d="M478.00,43.00 C481.83,43.03 493.33,43.13 501.00,43.20 C508.67,43.27 516.33,43.33 524.00,43.40 C531.67,43.47 539.33,43.53 547.00,43.60 C554.67,43.67 562.00,43.65 570.00,43.80 C578.00,43.95 588.00,44.42 595.00,44.50 C602.00,44.58 607.00,44.52 612.00,44.30 C617.00,44.08 620.33,43.52 625.00,43.20 C629.67,42.88 635.75,42.58 640.00,42.40 C644.25,42.22 647.00,42.10 650.50,42.10 C654.00,42.10 656.75,42.25 661.00,42.40 C665.25,42.55 671.33,42.73 676.00,43.02 C680.67,43.31 684.00,43.79 689.00,44.12 C694.00,44.45 699.00,44.96 706.00,44.98 C713.00,45.00 723.00,44.40 731.00,44.25 C739.00,44.10 746.33,44.12 754.00,44.06 C761.67,44.00 769.33,43.94 777.00,43.88 C784.67,43.81 792.33,43.75 800.00,43.69 C807.67,43.62 819.17,43.53 823.00,43.50" fill="none" stroke="#000" stroke-width="1.35"/>
<path d="M478.00,40.70 C481.83,40.75 493.33,40.92 501.00,41.03 C508.67,41.13 516.33,41.24 524.00,41.35 C531.67,41.46 539.33,41.57 547.00,41.67 C554.67,41.78 562.00,41.88 570.00,42.00 C578.00,42.12 588.00,42.38 595.00,42.40 C602.00,42.42 607.00,42.30 612.00,42.10 C617.00,41.90 620.33,41.45 625.00,41.20 C629.67,40.95 635.75,40.75 640.00,40.60 C644.25,40.45 647.00,40.30 650.50,40.30 C654.00,40.30 656.75,40.48 661.00,40.60 C665.25,40.72 671.33,40.80 676.00,41.02 C680.67,41.24 684.00,41.61 689.00,41.92 C694.00,42.23 699.00,42.79 706.00,42.88 C713.00,42.97 723.00,42.57 731.00,42.45 C739.00,42.33 746.33,42.24 754.00,42.14 C761.67,42.03 769.33,41.93 777.00,41.83 C784.67,41.72 792.33,41.62 800.00,41.51 C807.67,41.41 819.17,41.25 823.00,41.20" fill="none" stroke="#000" stroke-width="1.35"/>
<path d="M478.00,38.60 C481.83,38.66 493.33,38.83 501.00,38.95 C508.67,39.07 516.33,39.18 524.00,39.30 C531.67,39.42 539.33,39.53 547.00,39.65 C554.67,39.77 562.00,39.91 570.00,40.00 C578.00,40.09 588.00,40.20 595.00,40.20 C602.00,40.20 607.00,40.17 612.00,40.00 C617.00,39.83 620.33,39.40 625.00,39.20 C629.67,39.00 635.75,38.90 640.00,38.80 C644.25,38.70 647.00,38.60 650.50,38.60 C654.00,38.60 656.75,38.73 661.00,38.80 C665.25,38.87 671.33,38.85 676.00,39.02 C680.67,39.19 684.00,39.54 689.00,39.82 C694.00,40.10 699.00,40.58 706.00,40.68 C713.00,40.78 723.00,40.54 731.00,40.45 C739.00,40.36 746.33,40.23 754.00,40.11 C761.67,40.00 769.33,39.89 777.00,39.78 C784.67,39.66 792.33,39.55 800.00,39.44 C807.67,39.33 819.17,39.16 823.00,39.10" fill="none" stroke="#000" stroke-width="1.35"/>
<rect x="480.90" y="28" width="339.05" height="1.35" fill="url(#redb)"/>
<text x="620.45" y="151.45" font-family="Liberation Sans" font-size="11" textLength="18.5" lengthAdjust="spacingAndGlyphs" fill="#000" stroke="#000" stroke-width="0.2" transform="rotate(0 629.70 147.20)">280</text>
<text x="653.25" y="141.05" font-family="Liberation Sans" font-size="11" textLength="18.5" lengthAdjust="spacingAndGlyphs" fill="#000" stroke="#000" stroke-width="0.2" transform="rotate(0 662.50 136.80)">300</text>
<text x="651.75" y="102.05" font-family="Liberation Sans" font-size="11" textLength="18.5" lengthAdjust="spacingAndGlyphs" fill="#000" stroke="#000" stroke-width="0.2" transform="rotate(0 661.00 97.80)">320</text>
<text x="620.75" y="59.85" font-family="Liberation Sans" font-size="11" textLength="18.5" lengthAdjust="spacingAndGlyphs" fill="#000" stroke="#000" stroke-width="0.2" transform="rotate(-4 630.00 55.60)">340</text>
<text x="590.25" y="56.85" font-family="Liberation Sans" font-size="11" textLength="18.5" lengthAdjust="spacingAndGlyphs" fill="#000" stroke="#000" stroke-width="0.2" transform="rotate(2 599.50 52.60)">360</text>
<text x="563.45" y="50.45" font-family="Liberation Sans" font-size="11" textLength="18.5" lengthAdjust="spacingAndGlyphs" fill="#000" stroke="#000" stroke-width="0.2" transform="rotate(0 572.70 46.20)">380</text>
<text x="535.45" y="46.85" font-family="Liberation Sans" font-size="11" textLength="18.5" lengthAdjust="spacingAndGlyphs" fill="#000" stroke="#000" stroke-width="0.2" transform="rotate(0 544.70 42.60)">400</text>
<text x="507.75" y="45.25" font-family="Liberation Sans" font-size="11" textLength="18.5" lengthAdjust="spacingAndGlyphs" fill="#000" stroke="#000" stroke-width="0.2" transform="rotate(0 517.00 41.00)">420</text>
</g>
<path d="M480.90,27.30 L480.90,221.90 L819.95,221.90 L819.95,27.30" fill="none" stroke="#000" stroke-width="1.9"/>
<rect x="479.90" y="27.6" width="341.05" height="0.6" fill="#000"/>
<rect x="498.15" y="222.80" width="1.1" height="3.0" fill="#000"/>
<rect x="498.15" y="24.00" width="1.1" height="3.3" fill="#000"/>
<rect x="517.12" y="222.80" width="1.1" height="3.0" fill="#000"/>
<rect x="517.12" y="24.00" width="1.1" height="3.3" fill="#000"/>
<rect x="535.65" y="222.80" width="2" height="6.9" fill="#000"/>
<rect x="535.65" y="20.10" width="2" height="7.2" fill="#000"/>
<rect x="555.08" y="222.80" width="1.1" height="3.0" fill="#000"/>
<rect x="555.08" y="24.00" width="1.1" height="3.3" fill="#000"/>
<rect x="574.05" y="222.80" width="1.1" height="3.0" fill="#000"/>
<rect x="574.05" y="24.00" width="1.1" height="3.3" fill="#000"/>
<rect x="592.58" y="222.80" width="2" height="6.9" fill="#000"/>
<rect x="592.58" y="20.10" width="2" height="7.2" fill="#000"/>
<rect x="612.00" y="222.80" width="1.1" height="3.0" fill="#000"/>
<rect x="612.00" y="24.00" width="1.1" height="3.3" fill="#000"/>
<rect x="630.98" y="222.80" width="1.1" height="3.0" fill="#000"/>
<rect x="630.98" y="24.00" width="1.1" height="3.3" fill="#000"/>
<rect x="649.50" y="222.80" width="2" height="6.9" fill="#000"/>
<rect x="649.50" y="20.10" width="2" height="7.2" fill="#000"/>
<rect x="668.93" y="222.80" width="1.1" height="3.0" fill="#000"/>
<rect x="668.93" y="24.00" width="1.1" height="3.3" fill="#000"/>
<rect x="687.90" y="222.80" width="1.1" height="3.0" fill="#000"/>
<rect x="687.90" y="24.00" width="1.1" height="3.3" fill="#000"/>
<rect x="706.42" y="222.80" width="2" height="6.9" fill="#000"/>
<rect x="706.42" y="20.10" width="2" height="7.2" fill="#000"/>
<rect x="725.85" y="222.80" width="1.1" height="3.0" fill="#000"/>
<rect x="725.85" y="24.00" width="1.1" height="3.3" fill="#000"/>
<rect x="744.83" y="222.80" width="1.1" height="3.0" fill="#000"/>
<rect x="744.83" y="24.00" width="1.1" height="3.3" fill="#000"/>
<rect x="763.35" y="222.80" width="2" height="6.9" fill="#000"/>
<rect x="763.35" y="20.10" width="2" height="7.2" fill="#000"/>
<rect x="782.78" y="222.80" width="1.1" height="3.0" fill="#000"/>
<rect x="782.78" y="24.00" width="1.1" height="3.3" fill="#000"/>
<rect x="801.75" y="222.80" width="1.1" height="3.0" fill="#000"/>
<rect x="801.75" y="24.00" width="1.1" height="3.3" fill="#000"/>
<rect x="472.80" y="64.05" width="7.6" height="1.8" fill="#000"/>
<rect x="820.45" y="64.05" width="7.0" height="1.8" fill="#000"/>
<text x="448.10" y="69.55" font-family="Liberation Serif" font-size="14" textLength="16.5" lengthAdjust="spacingAndGlyphs" fill="#000" stroke="#000" stroke-width="0.25">0.2</text>
<rect x="472.80" y="104.05" width="7.6" height="1.8" fill="#000"/>
<rect x="820.45" y="104.05" width="7.0" height="1.8" fill="#000"/>
<text x="448.10" y="109.55" font-family="Liberation Serif" font-size="14" textLength="16.5" lengthAdjust="spacingAndGlyphs" fill="#000" stroke="#000" stroke-width="0.25">0.4</text>
<rect x="472.80" y="144.05" width="7.6" height="1.8" fill="#000"/>
<rect x="820.45" y="144.05" width="7.0" height="1.8" fill="#000"/>
<text x="448.10" y="149.55" font-family="Liberation Serif" font-size="14" textLength="16.5" lengthAdjust="spacingAndGlyphs" fill="#000" stroke="#000" stroke-width="0.25">0.6</text>
<rect x="472.80" y="184.05" width="7.6" height="1.8" fill="#000"/>
<rect x="820.45" y="184.05" width="7.0" height="1.8" fill="#000"/>
<text x="448.10" y="189.55" font-family="Liberation Serif" font-size="14" textLength="16.5" lengthAdjust="spacingAndGlyphs" fill="#000" stroke="#000" stroke-width="0.25">0.8</text>
<text x="524.60" y="247.2" font-family="Liberation Serif" font-size="14" textLength="24.1" lengthAdjust="spacingAndGlyphs" fill="#000" stroke="#000" stroke-width="0.25">60S</text>
<text x="581.38" y="247.2" font-family="Liberation Serif" font-size="14" textLength="24.4" lengthAdjust="spacingAndGlyphs" fill="#000" stroke="#000" stroke-width="0.25">30S</text>
<text x="647.15" y="247.2" font-family="Liberation Serif" font-size="14" textLength="6.7" lengthAdjust="spacingAndGlyphs" fill="#000" stroke="#000" stroke-width="0.25">0</text>
<text x="694.88" y="247.2" font-family="Liberation Serif" font-size="14" textLength="25.1" lengthAdjust="spacingAndGlyphs" fill="#000" stroke="#000" stroke-width="0.25">30N</text>
<text x="751.55" y="247.2" font-family="Liberation Serif" font-size="14" textLength="25.6" lengthAdjust="spacingAndGlyphs" fill="#000" stroke="#000" stroke-width="0.25">60N</text>
<text transform="translate(60.6,16.3) scale(1.12,1)" font-family="Liberation Serif" font-size="20.5" fill="#000">a</text>
<text transform="translate(480.4,16.6) scale(1.12,1.02)" font-family="Liberation Serif" font-size="19.5" fill="#000">b</text>
<path d="M73.0,1.2 Q82.3,10.75 73.0,20.3" fill="none" stroke="#000" stroke-width="1.35"/>
<path d="M492.7,1.2 Q501.8,10.7 492.7,20.1" fill="none" stroke="#000" stroke-width="1.35"/>
<g fill="#000" font-family="Liberation Serif" font-size="17.6">
<text transform="translate(18.2,143.4) rotate(-90) scale(1.1,1)">p</text>
<text transform="translate(18.2,121.0) rotate(-90) scale(1.1,1)">p</text>
</g>
<line x1="18.8" y1="132" x2="3.8" y2="121.9" stroke="#000" stroke-width="1.1"/>
<text transform="translate(22.1,110.4) rotate(-90)" font-family="Liberation Sans" font-weight="bold" font-size="10.5" fill="#000">s</text>
</svg>
</body></html>
